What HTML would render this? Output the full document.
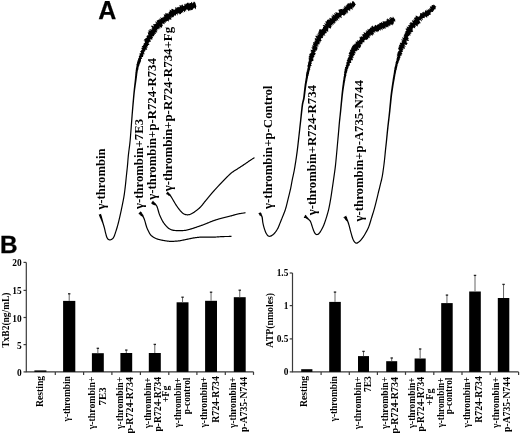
<!DOCTYPE html>
<html><head><meta charset="utf-8"><style>
html,body{margin:0;padding:0;background:#fff;width:520px;height:433px;overflow:hidden}
svg{display:block;filter:grayscale(1)}
text{font-family:"Liberation Serif",serif;font-weight:bold;fill:#000}
.big{font-family:"Liberation Sans",sans-serif;font-weight:bold}
</style></head><body>
<svg width="520" height="433" viewBox="0 0 520 433">
<rect width="520" height="433" fill="#fff"/>
<text class="big" x="98.3" y="18.7" font-size="25" stroke="#000" stroke-width="0.25">A</text>
<text class="big" x="-0.1" y="253.4" font-size="24.3" stroke="#000" stroke-width="0.3">B</text>
<g fill="#000"><path d="M98.54,214.78 L98.91,215.03 L99.06,215.49 L99.19,216.05 L99.54,216.60 L99.68,217.24 L100.08,217.78 L100.24,218.33 L100.43,218.85 L100.67,219.34 L100.89,219.85 L101.10,220.34 L101.30,220.83 L101.50,221.30 L101.69,221.74 L101.91,222.31 L102.11,222.83 L102.31,223.32 L102.50,223.83 L102.70,224.39 L102.84,224.82 L102.98,225.25 L103.12,225.68 L103.26,226.14 L103.41,226.63 L103.56,227.16 L103.72,227.75 L103.82,228.16 L103.93,228.61 L104.05,229.09 L104.16,229.59 L104.28,230.10 L104.40,230.62 L104.52,231.15 L104.65,231.67 L104.77,232.18 L104.90,232.68 L105.02,233.15 L105.17,233.71 L105.31,234.27 L105.46,234.83 L105.60,235.39 L105.75,235.93 L105.91,236.46 L106.08,236.96 L106.26,237.43 L106.47,237.88 L106.85,238.55 L107.27,239.15 L107.73,239.65 L108.23,240.05 L108.78,240.36 L109.51,240.54 L110.27,240.53 L111.00,240.34 L111.67,240.04 L112.11,239.78 L112.54,239.48 L112.98,239.12 L113.41,238.68 L113.82,238.14 L114.22,237.50 L114.44,237.09 L114.64,236.65 L114.84,236.18 L115.04,235.68 L115.23,235.16 L115.42,234.62 L115.61,234.07 L115.80,233.51 L115.99,232.94 L116.18,232.36 L116.37,231.79 L116.52,231.33 L116.67,230.87 L116.82,230.40 L116.98,229.92 L117.13,229.43 L117.28,228.94 L117.43,228.44 L117.58,227.94 L117.73,227.42 L117.88,226.90 L118.03,226.37 L118.18,225.84 L118.33,225.30 L118.48,224.76 L118.60,224.30 L118.72,223.84 L118.84,223.38 L118.96,222.91 L119.07,222.44 L119.19,221.97 L119.31,221.49 L119.43,221.00 L119.54,220.51 L119.66,220.02 L119.78,219.52 L119.89,219.02 L120.01,218.51 L120.13,218.00 L120.25,217.48 L120.36,216.96 L120.49,216.43 L120.59,215.96 L120.70,215.47 L120.81,214.99 L120.92,214.49 L121.03,214.00 L121.15,213.49 L121.26,212.99 L121.37,212.48 L121.48,211.97 L121.59,211.45 L121.70,210.93 L121.82,210.41 L121.93,209.89 L122.04,209.36 L122.15,208.84 L122.26,208.31 L122.37,207.78 L122.48,207.25 L122.59,206.72 L122.69,206.24 L122.79,205.75 L122.88,205.27 L122.99,204.78 L123.09,204.28 L123.19,203.78 L123.29,203.29 L123.39,202.78 L123.49,202.28 L123.59,201.78 L123.69,201.28 L123.79,200.77 L123.88,200.27 L123.98,199.77 L124.07,199.26 L124.16,198.76 L124.25,198.27 L124.34,197.77 L124.43,197.28 L124.51,196.78 L124.59,196.30 L124.68,195.76 L124.76,195.23 L124.84,194.70 L124.92,194.18 L124.99,193.66 L125.06,193.14 L125.13,192.62 L125.20,192.10 L125.27,191.59 L125.33,191.07 L125.40,190.56 L125.46,190.04 L125.52,189.53 L125.59,189.01 L125.65,188.49 L125.71,187.96 L125.77,187.43 L125.83,186.90 L125.90,186.37 L125.95,185.88 L126.01,185.39 L126.06,184.90 L126.12,184.40 L126.17,183.90 L126.23,183.40 L126.28,182.90 L126.33,182.40 L126.38,181.90 L126.43,181.39 L126.49,180.89 L126.54,180.38 L126.59,179.88 L126.64,179.37 L126.69,178.87 L126.74,178.37 L126.79,177.86 L126.84,177.36 L126.89,176.86 L126.94,176.36 L127.00,175.86 L127.05,175.34 L127.11,174.82 L127.16,174.30 L127.22,173.78 L127.28,173.26 L127.33,172.74 L127.39,172.22 L127.45,171.70 L127.50,171.18 L127.56,170.66 L127.62,170.14 L127.67,169.62 L127.73,169.10 L127.78,168.58 L127.84,168.06 L127.89,167.54 L127.94,167.02 L128.00,166.50 L128.05,165.98 L128.10,165.46 L128.15,164.94 L128.19,164.42 L128.24,163.91 L128.28,163.40 L128.32,162.89 L128.36,162.38 L128.40,161.87 L128.44,161.37 L128.48,160.86 L128.52,160.35 L128.56,159.84 L128.60,159.33 L128.65,158.82 L128.69,158.30 L128.74,157.77 L128.78,157.24 L128.83,156.71 L128.88,156.17 L128.94,155.62 L129.00,155.06 L129.05,154.59 L129.10,154.11 L129.16,153.63 L129.22,153.13 L129.28,152.63 L129.34,152.13 L129.41,151.62 L129.47,151.11 L129.54,150.59 L129.61,150.07 L129.68,149.55 L129.74,149.03 L129.81,148.51 L129.88,147.99 L129.95,147.47 L130.02,146.95 L130.08,146.43 L130.15,145.92 L130.21,145.41 L130.27,144.91 L130.33,144.41 L130.39,143.92 L130.44,143.44 L130.50,142.96 L130.56,142.40 L130.61,141.85 L130.67,141.31 L130.72,140.77 L130.77,140.24 L130.81,139.71 L130.86,139.19 L130.91,138.67 L130.95,138.16 L130.99,137.65 L131.03,137.14 L131.07,136.63 L131.11,136.13 L131.15,135.62 L131.19,135.11 L131.23,134.61 L131.27,134.10 L131.31,133.58 L131.36,133.07 L131.40,132.55 L131.44,132.05 L131.48,131.55 L131.52,131.05 L131.56,130.55 L131.60,130.05 L131.64,129.55 L131.68,129.05 L131.72,128.54 L131.76,128.04 L131.80,127.54 L131.84,127.04 L131.87,126.54 L131.91,126.04 L131.95,125.53 L131.99,125.03 L132.03,124.53 L132.07,124.04 L132.11,123.54 L132.15,123.04 L132.18,122.54 L132.22,122.05 L132.26,121.53 L132.31,121.01 L132.35,120.49 L132.39,119.98 L132.43,119.46 L132.47,118.95 L132.51,118.43 L132.55,117.92 L132.59,117.41 L132.63,116.89 L132.67,116.38 L132.71,115.87 L132.75,115.35 L132.79,114.84 L132.83,114.33 L132.88,113.81 L132.92,113.30 L132.96,112.79 L133.00,112.27 L133.05,111.75 L133.09,111.24 L133.14,110.72 L133.18,110.20 L133.23,109.68 L133.28,109.17 L133.32,108.65 L133.37,108.13 L133.42,107.61 L133.46,107.09 L133.51,106.57 L133.56,106.05 L133.61,105.53 L133.65,105.01 L133.70,104.49 L133.75,103.97 L133.80,103.45 L133.85,102.93 L133.90,102.41 L133.95,101.89 L134.00,101.36 L134.04,100.87 L134.09,100.37 L134.14,99.87 L134.19,99.37 L134.23,98.87 L134.28,98.37 L134.33,97.87 L134.38,97.37 L134.42,96.87 L134.47,96.37 L134.52,95.87 L134.57,95.37 L134.62,94.87 L134.67,94.37 L134.72,93.87 L134.77,93.37 L134.83,92.87 L134.88,92.37 L134.93,91.87 L134.99,91.38 L135.05,90.88 L135.11,90.36 L135.18,89.84 L135.25,89.31 L135.32,88.78 L135.39,88.24 L135.47,87.71 L135.54,87.17 L135.62,86.64 L135.69,86.11 L135.77,85.57 L135.84,85.05 L135.92,84.52 L136.00,84.00 L136.07,83.48 L136.14,82.97 L136.22,82.46 L136.29,81.96 L136.36,81.47 L136.43,80.98 L136.49,80.51 L136.57,79.92 L136.66,79.35 L136.72,78.78 L136.79,78.22 L136.90,77.68 L136.94,77.13 L136.98,76.59 L137.08,76.07 L137.17,75.56 L137.26,75.05 L137.20,74.53 L137.41,74.06 L137.38,73.56 L137.43,73.08 L137.50,72.61 L137.71,72.16 L137.63,71.57 L137.84,71.04 L137.81,70.49 L138.10,70.00 L138.24,69.50 L138.41,69.01 L138.37,68.50 L138.48,68.02 L138.58,67.55 L138.51,67.05 L138.83,66.63 L138.88,66.15 L139.15,65.73 L139.40,65.27 L139.55,64.79 L139.48,64.26 L139.75,63.83 L139.99,63.39 L140.23,62.96 L140.45,62.52 L140.25,61.94 L140.86,61.63 L140.89,61.12 L140.92,60.61 L141.13,60.14 L140.97,59.55 L141.04,59.04 L141.96,58.84 L142.21,58.40 L141.67,57.64 L141.75,57.11 L143.06,57.09 L143.01,56.51 L143.18,56.02 L143.34,55.53 L143.27,54.93 L142.98,54.25 L144.65,54.41 L143.53,53.38 L144.86,53.40 L143.79,52.37 L144.14,51.96 L144.57,51.59 L145.03,51.22 L145.54,50.88 L145.02,50.08 L145.43,49.69 L146.69,49.66 L147.30,49.33 L147.07,48.65 L146.02,47.64 L147.94,47.84 L146.86,46.84 L147.51,46.54 L147.81,46.10 L148.26,45.73 L147.87,45.02 L149.40,45.10 L148.94,44.37 L149.64,44.13 L148.10,42.89 L148.83,42.65 L149.36,42.31 L149.62,41.85 L150.56,41.71 L151.01,41.35 L150.50,40.52 L149.73,39.53 L150.81,39.50 L151.82,39.44 L152.67,39.32 L151.79,38.27 L152.76,38.24 L152.92,37.77 L152.67,37.04 L152.26,36.19 L153.33,36.25 L154.25,36.23 L153.92,35.42 L154.15,34.96 L155.40,35.18 L154.10,33.69 L155.43,33.98 L155.94,33.72 L155.48,32.82 L155.61,32.21 L156.86,32.38 L157.41,32.12 L156.05,30.54 L157.61,31.03 L157.06,30.03 L156.96,29.34 L157.92,29.46 L157.97,28.88 L159.41,29.43 L158.31,27.88 L159.72,28.48 L160.50,28.55 L159.10,26.55 L160.80,27.48 L161.68,27.65 L161.96,27.23 L162.01,26.56 L162.19,26.03 L163.03,26.19 L162.39,24.77 L162.44,24.10 L162.44,23.36 L163.40,23.73 L164.46,24.25 L164.66,23.74 L164.24,22.43 L164.85,22.40 L165.70,22.66 L165.97,22.19 L165.64,20.92 L166.86,21.66 L167.06,21.08 L167.48,20.80 L168.73,21.59 L169.01,21.13 L168.59,19.71 L169.59,20.21 L169.34,19.02 L170.72,20.07 L170.68,19.17 L171.65,19.68 L170.59,17.31 L172.14,18.57 L171.41,16.55 L172.66,17.42 L173.05,17.05 L173.78,17.21 L173.74,16.20 L174.01,15.67 L174.69,15.80 L174.60,14.66 L175.93,15.95 L176.01,15.10 L176.00,14.04 L176.57,14.02 L177.96,15.64 L177.40,13.41 L178.15,13.77 L178.34,12.97 L179.79,14.86 L179.58,13.18 L180.59,14.17 L181.09,14.07 L181.08,12.80 L181.73,13.04 L182.13,12.69 L182.32,11.80 L183.37,13.06 L182.96,10.63 L183.67,11.02 L184.74,12.36 L185.10,11.85 L184.93,9.95 L186.23,11.85 L186.05,9.97 L186.30,9.23 L187.07,9.88 L187.34,9.23 L188.52,11.24 L188.85,10.92 L188.97,9.91 L189.50,10.43 L190.02,10.85 L190.39,10.55 L190.70,9.45 L191.34,10.19 L191.86,10.03 L192.33,9.40 L192.97,9.92 L193.17,7.64 L193.97,8.95 L194.47,7.47 L195.77,9.57 L195.96,7.86 L196.13,6.70 L196.47,6.69 L195.40,2.88 L194.76,1.93 L194.16,1.50 L194.01,2.92 L193.05,1.45 L192.78,3.14 L192.47,3.41 L191.84,2.18 L191.28,1.71 L190.91,3.08 L190.29,2.92 L189.62,2.70 L189.17,3.90 L188.22,2.56 L187.53,2.70 L186.99,3.07 L186.57,3.70 L186.02,3.86 L185.35,3.64 L185.31,5.12 L184.13,3.51 L184.43,5.79 L183.95,5.97 L183.42,6.03 L182.21,4.32 L181.95,5.09 L181.25,4.76 L181.39,6.61 L180.20,5.06 L179.53,4.90 L179.80,7.03 L179.31,7.29 L178.47,6.74 L178.15,7.42 L177.45,7.20 L176.73,6.96 L176.85,8.55 L175.35,6.65 L175.37,8.01 L175.29,9.14 L174.77,9.34 L174.49,10.03 L173.52,9.42 L172.63,9.02 L171.79,8.76 L171.32,9.16 L171.55,10.68 L170.43,10.00 L169.61,9.82 L169.99,11.46 L169.26,11.41 L169.00,12.04 L168.61,12.49 L168.68,13.58 L168.18,13.85 L166.86,12.88 L166.85,13.79 L165.52,12.86 L165.39,13.60 L165.46,14.62 L164.94,14.82 L163.67,14.03 L164.09,15.48 L164.30,16.63 L163.49,16.45 L163.51,17.34 L162.92,17.42 L162.40,17.61 L161.90,17.81 L161.31,17.91 L159.87,16.96 L161.10,19.35 L160.16,19.04 L158.92,18.43 L159.66,20.15 L158.43,19.60 L158.10,20.09 L157.50,20.26 L156.95,20.51 L156.56,20.93 L157.44,22.65 L155.27,21.28 L155.62,22.45 L156.27,23.87 L155.41,23.83 L154.88,24.12 L154.15,24.23 L153.05,24.05 L153.53,25.27 L153.98,26.38 L151.92,25.54 L151.29,25.82 L151.20,26.47 L152.61,28.15 L151.36,27.96 L152.27,29.26 L151.47,29.40 L150.08,29.15 L149.10,29.08 L150.92,30.93 L148.52,29.94 L148.67,30.68 L148.39,31.15 L149.27,32.38 L147.63,31.99 L148.11,32.96 L147.90,33.50 L148.26,34.39 L148.50,35.18 L147.33,35.16 L147.11,35.68 L146.45,35.97 L146.67,36.73 L146.78,37.42 L146.66,37.99 L145.28,37.93 L145.71,38.77 L144.90,39.00 L143.85,39.12 L145.30,40.42 L143.40,40.14 L144.90,41.44 L144.57,41.89 L145.20,42.76 L144.40,43.01 L143.96,43.41 L143.42,43.77 L143.49,44.37 L143.86,45.08 L142.74,45.20 L143.15,45.91 L142.28,46.11 L141.53,46.34 L142.99,47.50 L141.49,47.41 L142.24,48.29 L140.88,48.25 L142.44,49.50 L141.99,49.87 L140.97,49.98 L141.45,50.76 L140.97,51.12 L139.94,51.24 L140.94,52.25 L140.78,52.76 L140.84,53.36 L139.22,53.24 L139.92,54.11 L139.45,54.48 L140.07,55.30 L139.23,55.53 L139.02,56.01 L138.71,56.46 L139.23,57.24 L138.81,57.64 L138.76,58.19 L138.11,58.51 L137.87,58.99 L138.05,59.60 L138.24,60.20 L137.40,60.45 L137.47,61.01 L137.40,61.52 L137.26,62.01 L136.94,62.45 L137.21,63.07 L137.00,63.56 L136.56,63.98 L136.50,64.52 L136.38,65.06 L136.70,65.65 L136.31,66.07 L136.45,66.62 L136.31,67.10 L136.18,67.59 L136.08,68.09 L135.94,68.58 L135.89,69.11 L135.82,69.63 L135.75,70.17 L135.58,70.70 L135.68,71.28 L135.57,71.85 L135.40,72.31 L135.43,72.81 L135.32,73.30 L135.38,73.81 L135.29,74.31 L135.21,74.81 L135.20,75.33 L135.20,75.86 L135.06,76.38 L135.01,76.92 L134.95,77.46 L134.93,78.01 L134.90,78.57 L134.82,79.14 L134.76,79.71 L134.71,80.29 L134.66,80.76 L134.60,81.25 L134.55,81.74 L134.49,82.24 L134.43,82.75 L134.37,83.26 L134.31,83.78 L134.25,84.30 L134.19,84.83 L134.13,85.36 L134.07,85.90 L134.01,86.43 L133.95,86.97 L133.89,87.51 L133.83,88.05 L133.77,88.59 L133.71,89.12 L133.66,89.66 L133.61,90.19 L133.55,90.72 L133.50,91.22 L133.45,91.72 L133.40,92.22 L133.35,92.72 L133.30,93.22 L133.26,93.72 L133.21,94.23 L133.17,94.73 L133.12,95.23 L133.08,95.73 L133.03,96.23 L132.99,96.74 L132.94,97.24 L132.90,97.74 L132.86,98.24 L132.82,98.74 L132.77,99.24 L132.73,99.74 L132.69,100.24 L132.65,100.74 L132.60,101.24 L132.56,101.76 L132.51,102.28 L132.47,102.80 L132.42,103.33 L132.38,103.85 L132.34,104.37 L132.29,104.89 L132.25,105.41 L132.21,105.93 L132.17,106.45 L132.12,106.97 L132.08,107.49 L132.04,108.01 L132.00,108.53 L131.96,109.05 L131.91,109.57 L131.87,110.09 L131.83,110.61 L131.79,111.13 L131.75,111.65 L131.71,112.16 L131.67,112.68 L131.63,113.20 L131.59,113.71 L131.55,114.23 L131.51,114.74 L131.47,115.25 L131.43,115.77 L131.40,116.28 L131.36,116.79 L131.32,117.31 L131.28,117.82 L131.24,118.34 L131.21,118.85 L131.17,119.37 L131.13,119.88 L131.09,120.40 L131.05,120.91 L131.02,121.43 L130.98,121.95 L130.94,122.45 L130.90,122.95 L130.87,123.44 L130.83,123.94 L130.79,124.44 L130.76,124.94 L130.72,125.44 L130.69,125.94 L130.65,126.45 L130.61,126.95 L130.58,127.45 L130.54,127.95 L130.50,128.45 L130.47,128.95 L130.43,129.46 L130.39,129.96 L130.36,130.46 L130.32,130.96 L130.28,131.46 L130.24,131.95 L130.20,132.45 L130.16,132.97 L130.12,133.49 L130.08,134.00 L130.04,134.51 L130.00,135.02 L129.96,135.53 L129.92,136.03 L129.88,136.54 L129.84,137.04 L129.80,137.55 L129.75,138.06 L129.71,138.57 L129.67,139.09 L129.62,139.60 L129.57,140.13 L129.52,140.66 L129.47,141.19 L129.42,141.73 L129.36,142.28 L129.30,142.84 L129.25,143.31 L129.20,143.79 L129.14,144.27 L129.08,144.77 L129.02,145.27 L128.96,145.77 L128.89,146.28 L128.83,146.79 L128.76,147.31 L128.69,147.83 L128.62,148.35 L128.56,148.87 L128.49,149.39 L128.42,149.91 L128.35,150.43 L128.28,150.95 L128.22,151.47 L128.15,151.98 L128.09,152.49 L128.03,152.99 L127.97,153.49 L127.91,153.98 L127.86,154.46 L127.80,154.94 L127.74,155.50 L127.69,156.05 L127.64,156.60 L127.59,157.13 L127.54,157.67 L127.49,158.19 L127.45,158.72 L127.41,159.23 L127.37,159.75 L127.33,160.26 L127.29,160.77 L127.25,161.27 L127.21,161.78 L127.17,162.29 L127.13,162.79 L127.09,163.30 L127.04,163.80 L127.00,164.31 L126.95,164.83 L126.90,165.34 L126.85,165.86 L126.80,166.38 L126.75,166.90 L126.70,167.42 L126.64,167.94 L126.59,168.45 L126.53,168.97 L126.48,169.49 L126.42,170.01 L126.37,170.53 L126.31,171.05 L126.25,171.57 L126.20,172.09 L126.14,172.61 L126.08,173.13 L126.03,173.65 L125.97,174.17 L125.91,174.69 L125.86,175.21 L125.80,175.74 L125.75,176.24 L125.70,176.74 L125.65,177.24 L125.60,177.74 L125.55,178.25 L125.49,178.75 L125.44,179.25 L125.39,179.76 L125.34,180.26 L125.29,180.77 L125.24,181.27 L125.19,181.78 L125.14,182.28 L125.08,182.78 L125.03,183.28 L124.98,183.78 L124.93,184.27 L124.87,184.76 L124.82,185.26 L124.76,185.74 L124.70,186.23 L124.64,186.76 L124.58,187.30 L124.52,187.82 L124.46,188.34 L124.39,188.86 L124.33,189.38 L124.27,189.90 L124.21,190.41 L124.14,190.92 L124.08,191.44 L124.01,191.95 L123.94,192.46 L123.87,192.98 L123.80,193.49 L123.73,194.01 L123.65,194.53 L123.57,195.05 L123.49,195.57 L123.41,196.10 L123.33,196.59 L123.25,197.07 L123.16,197.56 L123.07,198.05 L122.98,198.55 L122.89,199.05 L122.80,199.54 L122.70,200.04 L122.61,200.54 L122.51,201.05 L122.41,201.55 L122.31,202.05 L122.21,202.55 L122.11,203.05 L122.01,203.55 L121.91,204.04 L121.81,204.54 L121.71,205.03 L121.61,205.51 L121.51,206.00 L121.41,206.48 L121.30,207.01 L121.20,207.54 L121.09,208.06 L120.98,208.59 L120.86,209.11 L120.75,209.64 L120.64,210.16 L120.53,210.68 L120.42,211.20 L120.31,211.71 L120.20,212.22 L120.08,212.73 L119.97,213.23 L119.86,213.73 L119.75,214.23 L119.64,214.72 L119.53,215.21 L119.42,215.69 L119.31,216.17 L119.19,216.69 L119.08,217.21 L118.96,217.73 L118.84,218.24 L118.72,218.75 L118.61,219.25 L118.49,219.74 L118.37,220.24 L118.26,220.72 L118.14,221.20 L118.03,221.68 L117.91,222.15 L117.79,222.62 L117.68,223.08 L117.56,223.54 L117.44,224.00 L117.32,224.44 L117.17,224.99 L117.03,225.52 L116.88,226.05 L116.73,226.57 L116.58,227.09 L116.43,227.59 L116.28,228.10 L116.13,228.59 L115.98,229.08 L115.83,229.56 L115.68,230.03 L115.53,230.50 L115.38,230.96 L115.23,231.41 L115.04,231.99 L114.85,232.56 L114.66,233.13 L114.48,233.69 L114.29,234.23 L114.10,234.75 L113.92,235.25 L113.73,235.72 L113.55,236.16 L113.36,236.55 L113.18,236.90 L112.84,237.46 L112.50,237.89 L112.16,238.24 L111.82,238.53 L111.47,238.76 L111.13,238.96 L110.60,239.21 L110.10,239.34 L109.64,239.35 L109.22,239.24 L108.90,239.06 L108.56,238.78 L108.21,238.40 L107.86,237.91 L107.53,237.32 L107.37,236.97 L107.21,236.55 L107.06,236.09 L106.91,235.60 L106.76,235.07 L106.62,234.53 L106.47,233.97 L106.33,233.41 L106.18,232.85 L106.06,232.38 L105.94,231.90 L105.81,231.39 L105.69,230.87 L105.57,230.35 L105.45,229.83 L105.33,229.31 L105.21,228.81 L105.10,228.33 L104.99,227.87 L104.88,227.45 L104.72,226.84 L104.57,226.30 L104.43,225.79 L104.29,225.32 L104.16,224.88 L104.03,224.45 L103.90,224.01 L103.74,223.43 L103.59,222.89 L103.44,222.38 L103.28,221.85 L103.11,221.26 L102.99,220.79 L102.86,220.30 L102.72,219.79 L102.58,219.27 L102.45,218.73 L102.34,218.19 L102.11,217.68 L102.04,217.09 L101.81,216.49 L101.65,215.86 L101.38,215.28 L101.25,214.72 L101.05,214.27 L101.22,213.84Z"/><path d="M138.75,213.34 L138.57,214.02 L139.16,214.13 L139.52,214.58 L140.28,214.68 L140.36,215.38 L140.78,215.65 L141.30,215.89 L141.69,216.19 L142.01,216.52 L142.36,216.87 L142.72,217.30 L142.93,217.69 L143.13,218.11 L143.33,218.56 L143.54,219.03 L143.74,219.52 L143.93,220.04 L144.13,220.59 L144.28,221.04 L144.42,221.52 L144.56,222.03 L144.71,222.56 L144.85,223.10 L144.99,223.64 L145.13,224.17 L145.28,224.68 L145.43,225.17 L145.59,225.69 L145.74,226.20 L145.90,226.69 L146.06,227.17 L146.22,227.64 L146.38,228.10 L146.56,228.57 L146.75,229.03 L146.98,229.56 L147.22,230.08 L147.47,230.59 L147.73,231.09 L147.98,231.57 L148.23,232.04 L148.47,232.48 L148.72,232.97 L148.96,233.44 L149.20,233.90 L149.46,234.37 L149.78,234.84 L150.15,235.30 L150.52,235.68 L150.92,236.05 L151.34,236.41 L151.79,236.76 L152.24,237.09 L152.71,237.41 L153.18,237.71 L153.65,238.00 L154.13,238.27 L154.63,238.53 L155.14,238.78 L155.66,239.02 L156.22,239.25 L156.80,239.46 L157.28,239.63 L157.78,239.78 L158.29,239.93 L158.82,240.07 L159.35,240.20 L159.89,240.33 L160.42,240.46 L160.95,240.57 L161.47,240.69 L161.99,240.80 L162.50,240.90 L163.02,241.00 L163.53,241.09 L164.04,241.18 L164.56,241.26 L165.07,241.34 L165.59,241.42 L166.12,241.49 L166.65,241.57 L167.19,241.64 L167.74,241.71 L168.29,241.78 L168.85,241.84 L169.40,241.89 L169.94,241.94 L170.47,241.98 L170.98,242.00 L171.53,242.01 L172.06,242.00 L172.57,241.98 L173.06,241.95 L173.55,241.92 L174.03,241.88 L174.53,241.84 L175.04,241.80 L175.50,241.77 L175.94,241.74 L176.39,241.72 L176.84,241.70 L177.31,241.66 L177.82,241.62 L178.36,241.56 L178.95,241.49 L179.59,241.39 L180.01,241.32 L180.46,241.25 L180.92,241.16 L181.40,241.07 L181.90,240.97 L182.40,240.87 L182.92,240.76 L183.45,240.65 L183.98,240.54 L184.51,240.43 L185.05,240.32 L185.57,240.20 L186.10,240.10 L186.61,239.99 L187.12,239.89 L187.62,239.79 L188.12,239.68 L188.63,239.57 L189.13,239.47 L189.63,239.36 L190.13,239.25 L190.63,239.14 L191.12,239.03 L191.62,238.93 L192.12,238.83 L192.61,238.73 L193.11,238.64 L193.60,238.55 L194.09,238.47 L194.59,238.39 L195.08,238.32 L195.55,238.26 L196.01,238.19 L196.46,238.13 L196.91,238.08 L197.36,238.03 L197.81,237.98 L198.27,237.93 L198.74,237.89 L199.23,237.85 L199.73,237.81 L200.26,237.78 L200.81,237.75 L201.40,237.72 L202.02,237.70 L202.45,237.69 L202.89,237.68 L203.36,237.67 L203.84,237.66 L204.34,237.66 L204.85,237.66 L205.37,237.66 L205.90,237.67 L206.44,237.67 L206.99,237.68 L207.54,237.68 L208.09,237.69 L208.65,237.70 L209.20,237.70 L209.75,237.71 L210.29,237.71 L210.83,237.72 L211.36,237.72 L211.88,237.72 L212.39,237.72 L212.88,237.72 L213.35,237.71 L213.81,237.70 L214.41,237.68 L214.99,237.66 L215.55,237.64 L216.09,237.61 L216.61,237.58 L217.13,237.55 L217.63,237.51 L218.12,237.48 L218.61,237.44 L219.09,237.41 L219.58,237.37 L220.06,237.34 L220.54,237.31 L221.02,237.28 L221.51,237.25 L222.01,237.22 L222.52,237.20 L223.03,237.18 L223.55,237.16 L224.10,237.14 L224.67,237.12 L225.24,237.10 L225.82,237.09 L226.41,237.07 L226.98,237.06 L227.55,237.04 L228.11,237.03 L228.65,237.02 L229.16,237.01 L229.65,237.00 L230.11,236.99 L230.53,236.98 L230.90,236.97 L231.23,236.96 L231.51,236.95 L231.49,235.85 L231.21,235.85 L230.88,235.86 L230.51,235.86 L230.09,235.86 L229.63,235.87 L229.15,235.87 L228.63,235.88 L228.09,235.89 L227.53,235.89 L226.96,235.90 L226.38,235.91 L225.80,235.92 L225.21,235.93 L224.64,235.94 L224.07,235.96 L223.52,235.97 L222.98,235.98 L222.48,236.00 L221.96,236.02 L221.45,236.05 L220.95,236.08 L220.46,236.11 L219.97,236.14 L219.49,236.18 L219.01,236.21 L218.52,236.25 L218.04,236.28 L217.55,236.32 L217.05,236.35 L216.54,236.38 L216.02,236.41 L215.49,236.44 L214.94,236.46 L214.37,236.48 L213.79,236.50 L213.33,236.51 L212.87,236.52 L212.38,236.52 L211.88,236.52 L211.36,236.52 L210.84,236.52 L210.30,236.51 L209.76,236.51 L209.21,236.50 L208.66,236.50 L208.11,236.49 L207.56,236.48 L207.00,236.48 L206.46,236.47 L205.91,236.47 L205.38,236.46 L204.85,236.46 L204.34,236.46 L203.83,236.46 L203.34,236.47 L202.87,236.48 L202.41,236.49 L201.98,236.50 L201.35,236.53 L200.75,236.55 L200.19,236.58 L199.65,236.62 L199.14,236.65 L198.64,236.69 L198.16,236.74 L197.69,236.78 L197.23,236.83 L196.77,236.89 L196.31,236.94 L195.85,237.00 L195.38,237.07 L194.91,237.13 L194.41,237.21 L193.91,237.28 L193.40,237.37 L192.89,237.46 L192.39,237.55 L191.88,237.65 L191.38,237.75 L190.88,237.86 L190.37,237.97 L189.87,238.08 L189.37,238.18 L188.87,238.29 L188.37,238.40 L187.88,238.51 L187.38,238.61 L186.88,238.71 L186.37,238.81 L185.86,238.92 L185.33,239.03 L184.80,239.14 L184.27,239.25 L183.73,239.37 L183.20,239.48 L182.68,239.59 L182.16,239.69 L181.66,239.79 L181.17,239.89 L180.70,239.98 L180.24,240.06 L179.81,240.14 L179.41,240.21 L178.78,240.30 L178.22,240.37 L177.70,240.42 L177.22,240.47 L176.76,240.50 L176.32,240.52 L175.88,240.55 L175.43,240.57 L174.96,240.60 L174.43,240.64 L173.93,240.68 L173.45,240.72 L172.98,240.76 L172.51,240.79 L172.03,240.80 L171.54,240.81 L171.02,240.80 L170.54,240.78 L170.03,240.74 L169.51,240.70 L168.97,240.65 L168.43,240.59 L167.89,240.52 L167.35,240.45 L166.81,240.38 L166.28,240.31 L165.77,240.23 L165.25,240.16 L164.75,240.08 L164.24,240.00 L163.74,239.91 L163.24,239.82 L162.73,239.72 L162.23,239.62 L161.73,239.51 L161.21,239.40 L160.69,239.28 L160.16,239.16 L159.64,239.04 L159.12,238.91 L158.61,238.77 L158.12,238.63 L157.65,238.49 L157.20,238.34 L156.66,238.13 L156.14,237.92 L155.65,237.69 L155.17,237.46 L154.71,237.22 L154.26,236.96 L153.82,236.69 L153.37,236.41 L152.93,236.11 L152.51,235.80 L152.10,235.48 L151.71,235.15 L151.36,234.83 L151.05,234.50 L150.74,234.12 L150.48,233.74 L150.25,233.33 L150.03,232.90 L149.79,232.42 L149.53,231.92 L149.29,231.47 L149.04,231.01 L148.79,230.54 L148.54,230.05 L148.30,229.56 L148.07,229.07 L147.85,228.57 L147.68,228.13 L147.51,227.69 L147.35,227.24 L147.19,226.78 L147.04,226.32 L146.89,225.84 L146.73,225.34 L146.57,224.83 L146.43,224.35 L146.29,223.85 L146.15,223.33 L146.01,222.79 L145.86,222.25 L145.72,221.71 L145.57,221.19 L145.42,220.69 L145.27,220.21 L145.08,219.64 L144.89,219.09 L144.69,218.57 L144.49,218.06 L144.29,217.59 L144.08,217.13 L143.88,216.70 L143.67,216.10 L143.47,215.56 L143.29,215.02 L143.05,214.51 L142.54,214.18 L142.36,213.57 L141.77,213.26 L141.77,212.37 L141.20,212.10 L140.76,211.85 L141.02,211.10Z"/><path d="M150.67,203.64 L151.60,203.07 L151.57,203.94 L152.20,204.14 L152.78,204.45 L153.32,204.75 L153.85,204.97 L154.52,205.25 L154.98,205.21 L155.36,205.28 L155.62,205.55 L155.90,205.89 L156.17,206.31 L156.46,206.85 L156.60,207.21 L156.75,207.63 L156.90,208.09 L157.05,208.58 L157.21,209.10 L157.36,209.63 L157.53,210.17 L157.67,210.65 L157.80,211.14 L157.94,211.65 L158.08,212.17 L158.23,212.70 L158.39,213.24 L158.55,213.77 L158.73,214.30 L158.92,214.81 L159.12,215.32 L159.32,215.83 L159.53,216.33 L159.75,216.83 L159.98,217.34 L160.21,217.85 L160.46,218.36 L160.69,218.83 L160.93,219.30 L161.17,219.79 L161.43,220.27 L161.69,220.76 L161.96,221.24 L162.23,221.71 L162.51,222.18 L162.80,222.63 L163.12,223.11 L163.44,223.58 L163.77,224.04 L164.11,224.49 L164.46,224.93 L164.81,225.36 L165.18,225.79 L165.56,226.20 L165.94,226.62 L166.33,227.03 L166.73,227.45 L167.14,227.86 L167.57,228.26 L168.02,228.64 L168.50,228.99 L168.99,229.31 L169.49,229.60 L169.99,229.85 L170.50,230.08 L171.03,230.28 L171.58,230.47 L172.15,230.63 L172.76,230.77 L173.39,230.89 L173.85,230.96 L174.33,231.02 L174.82,231.07 L175.33,231.11 L175.84,231.14 L176.37,231.16 L176.89,231.18 L177.42,231.19 L177.95,231.20 L178.48,231.20 L178.99,231.20 L179.50,231.20 L180.00,231.20 L180.50,231.20 L181.01,231.20 L181.51,231.19 L182.02,231.18 L182.52,231.16 L183.03,231.14 L183.54,231.11 L184.05,231.07 L184.56,231.02 L185.08,230.96 L185.59,230.89 L186.10,230.81 L186.62,230.71 L187.13,230.61 L187.64,230.49 L188.15,230.37 L188.65,230.24 L189.16,230.10 L189.66,229.96 L190.17,229.81 L190.67,229.67 L191.17,229.52 L191.67,229.38 L192.17,229.23 L192.68,229.07 L193.18,228.91 L193.69,228.74 L194.19,228.58 L194.69,228.41 L195.20,228.23 L195.70,228.06 L196.20,227.89 L196.70,227.71 L197.20,227.54 L197.69,227.37 L198.18,227.20 L198.64,227.05 L199.09,226.90 L199.53,226.75 L199.97,226.60 L200.43,226.45 L200.89,226.29 L201.38,226.12 L201.90,225.93 L202.46,225.73 L203.06,225.51 L203.71,225.26 L204.10,225.11 L204.50,224.95 L204.92,224.79 L205.36,224.61 L205.81,224.43 L206.27,224.24 L206.74,224.05 L207.22,223.85 L207.71,223.65 L208.21,223.44 L208.71,223.24 L209.21,223.03 L209.71,222.82 L210.22,222.62 L210.72,222.42 L211.21,222.22 L211.70,222.03 L212.18,221.84 L212.66,221.66 L213.12,221.49 L213.57,221.32 L214.00,221.17 L214.52,220.99 L215.03,220.81 L215.53,220.65 L216.02,220.49 L216.51,220.33 L216.99,220.18 L217.47,220.04 L217.94,219.90 L218.41,219.76 L218.88,219.62 L219.35,219.49 L219.81,219.36 L220.28,219.23 L220.75,219.10 L221.22,218.97 L221.70,218.84 L222.17,218.71 L222.66,218.58 L223.14,218.45 L223.64,218.32 L224.14,218.19 L224.64,218.06 L225.14,217.93 L225.65,217.80 L226.16,217.68 L226.67,217.56 L227.17,217.43 L227.68,217.31 L228.17,217.19 L228.67,217.07 L229.15,216.95 L229.63,216.84 L230.10,216.72 L230.56,216.61 L231.01,216.49 L231.45,216.38 L232.03,216.23 L232.59,216.07 L233.12,215.92 L233.63,215.78 L234.12,215.63 L234.60,215.49 L235.07,215.35 L235.55,215.21 L236.02,215.08 L236.50,214.95 L236.99,214.83 L237.50,214.71 L238.03,214.59 L238.52,214.48 L239.04,214.37 L239.60,214.27 L240.18,214.16 L240.77,214.06 L241.36,213.95 L241.96,213.85 L242.54,213.76 L243.11,213.67 L243.65,213.58 L244.16,213.50 L244.62,213.42 L245.04,213.35 L245.40,213.29 L245.69,213.24 L245.51,212.16 L245.22,212.20 L244.86,212.25 L244.45,212.32 L243.98,212.38 L243.48,212.46 L242.93,212.54 L242.36,212.63 L241.78,212.72 L241.18,212.81 L240.57,212.91 L239.97,213.01 L239.39,213.11 L238.82,213.21 L238.28,213.31 L237.77,213.41 L237.23,213.54 L236.70,213.66 L236.19,213.79 L235.70,213.93 L235.22,214.06 L234.74,214.20 L234.26,214.34 L233.78,214.48 L233.29,214.62 L232.79,214.77 L232.26,214.92 L231.72,215.07 L231.15,215.22 L230.72,215.33 L230.27,215.44 L229.82,215.56 L229.35,215.67 L228.87,215.79 L228.38,215.91 L227.89,216.02 L227.39,216.15 L226.89,216.27 L226.38,216.39 L225.87,216.51 L225.36,216.64 L224.85,216.77 L224.34,216.89 L223.84,217.02 L223.33,217.16 L222.83,217.29 L222.34,217.42 L221.86,217.55 L221.38,217.68 L220.90,217.81 L220.43,217.94 L219.96,218.07 L219.49,218.20 L219.02,218.34 L218.55,218.47 L218.08,218.61 L217.60,218.74 L217.12,218.89 L216.64,219.03 L216.15,219.19 L215.66,219.34 L215.15,219.51 L214.65,219.67 L214.13,219.85 L213.60,220.03 L213.16,220.19 L212.70,220.36 L212.23,220.54 L211.75,220.72 L211.26,220.91 L210.77,221.11 L210.27,221.31 L209.77,221.51 L209.26,221.71 L208.76,221.92 L208.25,222.13 L207.75,222.33 L207.26,222.54 L206.77,222.74 L206.29,222.94 L205.81,223.13 L205.35,223.32 L204.91,223.50 L204.48,223.67 L204.06,223.84 L203.66,223.99 L203.29,224.14 L202.64,224.38 L202.04,224.60 L201.49,224.80 L200.98,224.99 L200.50,225.15 L200.04,225.31 L199.59,225.46 L199.15,225.61 L198.71,225.76 L198.26,225.91 L197.79,226.07 L197.31,226.23 L196.80,226.40 L196.30,226.58 L195.80,226.75 L195.30,226.93 L194.80,227.10 L194.31,227.27 L193.81,227.44 L193.31,227.60 L192.82,227.77 L192.32,227.92 L191.83,228.08 L191.33,228.22 L190.83,228.37 L190.33,228.52 L189.83,228.66 L189.34,228.80 L188.84,228.94 L188.35,229.08 L187.85,229.20 L187.36,229.32 L186.87,229.43 L186.38,229.54 L185.90,229.63 L185.41,229.71 L184.92,229.77 L184.44,229.83 L183.95,229.88 L183.46,229.91 L182.97,229.94 L182.48,229.96 L181.98,229.98 L181.49,229.99 L180.99,230.00 L180.50,230.00 L180.00,230.00 L179.50,230.00 L179.00,230.00 L178.48,230.00 L177.96,230.00 L177.44,229.99 L176.92,229.98 L176.41,229.96 L175.90,229.94 L175.41,229.91 L174.93,229.88 L174.46,229.83 L174.02,229.77 L173.61,229.71 L173.01,229.59 L172.45,229.46 L171.93,229.32 L171.43,229.15 L170.96,228.97 L170.50,228.77 L170.05,228.54 L169.61,228.29 L169.18,228.01 L168.77,227.70 L168.37,227.36 L167.97,226.99 L167.58,226.61 L167.20,226.21 L166.82,225.80 L166.44,225.40 L166.08,224.99 L165.73,224.59 L165.39,224.18 L165.06,223.76 L164.74,223.33 L164.42,222.89 L164.11,222.44 L163.80,221.97 L163.53,221.55 L163.27,221.10 L163.00,220.65 L162.74,220.18 L162.49,219.71 L162.24,219.24 L162.00,218.76 L161.76,218.30 L161.54,217.84 L161.30,217.33 L161.07,216.84 L160.85,216.35 L160.63,215.86 L160.43,215.37 L160.23,214.88 L160.05,214.39 L159.87,213.90 L159.70,213.40 L159.54,212.89 L159.39,212.37 L159.24,211.85 L159.10,211.33 L158.96,210.82 L158.82,210.31 L158.67,209.83 L158.51,209.29 L158.36,208.76 L158.20,208.24 L158.05,207.73 L157.89,207.24 L157.72,206.78 L157.54,206.35 L157.25,205.72 L156.93,205.18 L156.60,204.73 L156.24,204.32 L155.86,203.80 L155.56,203.35 L155.14,203.05 L154.78,202.87 L154.54,202.25 L153.95,201.98 L153.75,201.26 L152.99,201.37 L153.32,200.37Z"/><path d="M166.04,193.79 L166.31,194.08 L166.69,194.51 L167.47,194.54 L167.91,195.00 L168.24,195.51 L168.95,195.66 L169.42,195.78 L170.00,196.22 L170.22,196.51 L170.49,196.90 L170.77,197.34 L171.07,197.82 L171.38,198.32 L171.69,198.82 L171.99,199.33 L172.28,199.81 L172.56,200.27 L172.82,200.72 L173.07,201.18 L173.33,201.64 L173.60,202.12 L173.88,202.60 L174.17,203.10 L174.49,203.62 L174.76,204.05 L175.04,204.49 L175.34,204.95 L175.64,205.42 L175.95,205.89 L176.26,206.36 L176.58,206.83 L176.89,207.28 L177.21,207.73 L177.52,208.15 L177.85,208.61 L178.19,209.06 L178.52,209.50 L178.86,209.94 L179.20,210.36 L179.54,210.77 L179.88,211.17 L180.22,211.55 L180.57,211.91 L180.99,212.35 L181.41,212.78 L181.84,213.19 L182.27,213.57 L182.73,213.93 L183.22,214.26 L183.74,214.54 L184.28,214.78 L184.85,214.98 L185.44,215.14 L186.03,215.26 L186.63,215.35 L187.23,215.39 L187.81,215.40 L188.38,215.37 L188.94,215.30 L189.49,215.19 L190.04,215.04 L190.60,214.85 L191.17,214.61 L191.76,214.34 L192.20,214.11 L192.65,213.86 L193.11,213.58 L193.57,213.28 L194.04,212.97 L194.51,212.64 L194.98,212.31 L195.44,211.97 L195.91,211.62 L196.36,211.28 L196.77,210.97 L197.18,210.66 L197.59,210.34 L198.01,210.02 L198.42,209.69 L198.84,209.35 L199.26,208.99 L199.67,208.63 L200.09,208.24 L200.51,207.84 L200.93,207.42 L201.26,207.07 L201.57,206.72 L201.88,206.37 L202.19,206.01 L202.49,205.64 L202.79,205.27 L203.09,204.88 L203.40,204.49 L203.71,204.09 L204.03,203.67 L204.37,203.25 L204.72,202.81 L205.08,202.35 L205.46,201.88 L205.75,201.54 L206.04,201.18 L206.34,200.81 L206.65,200.43 L206.97,200.04 L207.29,199.64 L207.62,199.24 L207.95,198.83 L208.29,198.41 L208.63,197.99 L208.98,197.57 L209.32,197.15 L209.67,196.73 L210.02,196.31 L210.36,195.89 L210.71,195.48 L211.05,195.07 L211.39,194.67 L211.72,194.28 L212.05,193.89 L212.40,193.49 L212.75,193.09 L213.09,192.70 L213.44,192.31 L213.79,191.92 L214.13,191.53 L214.48,191.14 L214.83,190.75 L215.18,190.37 L215.52,189.99 L215.87,189.61 L216.22,189.23 L216.56,188.85 L216.91,188.47 L217.26,188.10 L217.60,187.72 L217.95,187.35 L218.29,186.98 L218.64,186.61 L219.00,186.22 L219.36,185.83 L219.73,185.44 L220.09,185.06 L220.45,184.67 L220.81,184.29 L221.17,183.91 L221.53,183.53 L221.88,183.16 L222.24,182.78 L222.60,182.41 L222.96,182.04 L223.32,181.66 L223.68,181.29 L224.04,180.92 L224.40,180.56 L224.76,180.19 L225.13,179.82 L225.49,179.45 L225.86,179.08 L226.22,178.71 L226.59,178.33 L226.96,177.96 L227.32,177.58 L227.69,177.21 L228.05,176.84 L228.42,176.47 L228.78,176.11 L229.15,175.76 L229.51,175.40 L229.87,175.06 L230.24,174.72 L230.60,174.39 L230.96,174.07 L231.32,173.76 L231.68,173.47 L232.11,173.12 L232.54,172.79 L232.97,172.48 L233.40,172.17 L233.83,171.88 L234.27,171.59 L234.70,171.31 L235.14,171.04 L235.58,170.77 L236.01,170.50 L236.46,170.22 L236.90,169.95 L237.34,169.67 L237.78,169.39 L238.23,169.10 L238.67,168.81 L239.12,168.52 L239.56,168.23 L240.01,167.94 L240.47,167.64 L240.92,167.35 L241.37,167.06 L241.82,166.77 L242.27,166.48 L242.71,166.20 L243.15,165.91 L243.58,165.63 L244.01,165.35 L244.42,165.07 L244.83,164.80 L245.30,164.49 L245.76,164.17 L246.21,163.86 L246.65,163.56 L247.08,163.25 L247.51,162.95 L247.94,162.66 L248.35,162.36 L248.76,162.08 L249.16,161.80 L249.56,161.52 L249.95,161.26 L250.33,161.00 L250.84,160.66 L251.36,160.31 L251.88,159.96 L252.40,159.62 L252.90,159.30 L253.38,158.99 L253.81,158.71 L254.20,158.45 L254.54,158.24 L254.80,158.06 L254.20,157.14 L253.94,157.30 L253.60,157.51 L253.21,157.75 L252.77,158.03 L252.28,158.33 L251.77,158.65 L251.25,158.98 L250.71,159.32 L250.18,159.66 L249.67,160.00 L249.28,160.27 L248.88,160.54 L248.48,160.81 L248.07,161.09 L247.66,161.38 L247.25,161.67 L246.83,161.97 L246.40,162.27 L245.96,162.57 L245.52,162.88 L245.08,163.18 L244.63,163.49 L244.17,163.80 L243.76,164.07 L243.34,164.35 L242.92,164.62 L242.49,164.91 L242.05,165.19 L241.61,165.48 L241.17,165.76 L240.72,166.05 L240.27,166.34 L239.82,166.64 L239.36,166.93 L238.91,167.22 L238.46,167.52 L238.01,167.81 L237.57,168.10 L237.14,168.38 L236.70,168.66 L236.26,168.93 L235.82,169.20 L235.39,169.47 L234.94,169.75 L234.50,170.02 L234.06,170.30 L233.61,170.59 L233.17,170.88 L232.72,171.19 L232.27,171.50 L231.82,171.83 L231.37,172.18 L230.92,172.53 L230.55,172.85 L230.17,173.17 L229.80,173.50 L229.43,173.84 L229.05,174.18 L228.68,174.54 L228.31,174.90 L227.94,175.26 L227.57,175.63 L227.20,176.00 L226.83,176.37 L226.46,176.74 L226.10,177.12 L225.73,177.49 L225.37,177.87 L225.00,178.24 L224.64,178.61 L224.27,178.98 L223.91,179.35 L223.55,179.71 L223.18,180.08 L222.82,180.46 L222.46,180.83 L222.10,181.20 L221.74,181.58 L221.38,181.95 L221.02,182.33 L220.66,182.71 L220.29,183.09 L219.93,183.47 L219.57,183.85 L219.21,184.24 L218.85,184.62 L218.49,185.01 L218.12,185.40 L217.76,185.79 L217.42,186.16 L217.07,186.54 L216.72,186.91 L216.38,187.28 L216.03,187.66 L215.68,188.04 L215.33,188.42 L214.99,188.80 L214.64,189.18 L214.29,189.56 L213.94,189.95 L213.59,190.34 L213.24,190.73 L212.89,191.12 L212.54,191.51 L212.19,191.91 L211.84,192.30 L211.49,192.71 L211.15,193.11 L210.81,193.50 L210.47,193.89 L210.13,194.30 L209.79,194.71 L209.44,195.13 L209.09,195.54 L208.74,195.97 L208.40,196.39 L208.05,196.81 L207.70,197.23 L207.36,197.65 L207.02,198.07 L206.69,198.48 L206.36,198.88 L206.04,199.28 L205.72,199.67 L205.41,200.05 L205.11,200.42 L204.82,200.78 L204.54,201.12 L204.15,201.60 L203.78,202.06 L203.43,202.50 L203.09,202.93 L202.76,203.35 L202.45,203.75 L202.15,204.14 L201.85,204.52 L201.56,204.89 L201.26,205.24 L200.97,205.59 L200.68,205.93 L200.38,206.26 L200.07,206.58 L199.67,206.98 L199.27,207.37 L198.87,207.73 L198.47,208.09 L198.07,208.43 L197.67,208.76 L197.27,209.08 L196.86,209.39 L196.45,209.70 L196.05,210.01 L195.64,210.32 L195.19,210.66 L194.73,211.00 L194.27,211.34 L193.82,211.66 L193.36,211.98 L192.91,212.28 L192.47,212.56 L192.05,212.82 L191.63,213.06 L191.24,213.26 L190.69,213.51 L190.18,213.72 L189.69,213.89 L189.21,214.02 L188.74,214.11 L188.27,214.17 L187.79,214.20 L187.28,214.20 L186.76,214.16 L186.24,214.08 L185.72,213.97 L185.21,213.83 L184.72,213.66 L184.26,213.46 L183.84,213.23 L183.44,212.96 L183.04,212.65 L182.65,212.30 L182.25,211.92 L181.85,211.52 L181.43,211.09 L181.11,210.74 L180.78,210.38 L180.46,210.00 L180.13,209.60 L179.80,209.19 L179.48,208.77 L179.15,208.34 L178.82,207.90 L178.48,207.45 L178.19,207.03 L177.88,206.60 L177.57,206.15 L177.26,205.69 L176.95,205.23 L176.64,204.76 L176.35,204.30 L176.05,203.85 L175.77,203.40 L175.51,202.98 L175.20,202.48 L174.91,202.00 L174.64,201.52 L174.38,201.06 L174.12,200.59 L173.86,200.13 L173.59,199.66 L173.32,199.19 L173.03,198.71 L172.74,198.20 L172.44,197.68 L172.14,197.17 L171.84,196.67 L171.56,196.21 L171.28,195.78 L171.00,195.38 L170.52,194.62 L170.08,194.11 L169.65,193.63 L169.22,193.32 L168.95,192.62 L168.18,192.56 L168.02,191.84 L167.74,191.58Z"/><path d="M258.38,213.51 L258.59,213.94 L259.22,214.32 L259.32,215.13 L259.84,215.50 L260.43,215.85 L260.86,216.20 L261.11,216.53 L261.32,216.86 L261.57,217.65 L261.63,217.99 L261.69,218.41 L261.75,218.90 L261.81,219.43 L261.88,220.00 L261.95,220.59 L262.02,221.20 L262.10,221.81 L262.20,222.42 L262.31,223.01 L262.41,223.50 L262.51,223.99 L262.62,224.49 L262.74,225.00 L262.86,225.52 L262.99,226.03 L263.12,226.54 L263.25,227.05 L263.39,227.55 L263.54,228.04 L263.68,228.52 L263.83,228.98 L264.01,229.53 L264.19,230.08 L264.39,230.62 L264.58,231.16 L264.79,231.68 L264.99,232.19 L265.21,232.68 L265.43,233.15 L265.65,233.59 L265.89,234.01 L266.27,234.62 L266.68,235.19 L267.10,235.70 L267.56,236.14 L268.06,236.50 L268.61,236.77 L269.31,236.91 L270.02,236.87 L270.70,236.70 L271.36,236.44 L271.98,236.13 L272.43,235.87 L272.88,235.56 L273.32,235.22 L273.75,234.84 L274.19,234.43 L274.62,233.98 L275.05,233.50 L275.36,233.14 L275.67,232.76 L275.98,232.36 L276.30,231.94 L276.61,231.51 L276.93,231.06 L277.24,230.59 L277.54,230.10 L277.84,229.60 L278.13,229.08 L278.36,228.63 L278.59,228.16 L278.81,227.68 L279.03,227.19 L279.24,226.68 L279.44,226.17 L279.65,225.66 L279.85,225.15 L280.05,224.63 L280.25,224.12 L280.45,223.62 L280.65,223.13 L280.86,222.64 L281.05,222.17 L281.25,221.70 L281.44,221.24 L281.63,220.77 L281.82,220.30 L282.02,219.83 L282.22,219.34 L282.42,218.84 L282.62,218.32 L282.84,217.78 L283.06,217.22 L283.23,216.79 L283.41,216.35 L283.59,215.90 L283.78,215.44 L283.97,214.97 L284.16,214.49 L284.35,214.01 L284.55,213.51 L284.75,213.01 L284.95,212.50 L285.14,211.99 L285.34,211.46 L285.53,210.93 L285.71,210.38 L285.90,209.84 L286.07,209.28 L286.21,208.83 L286.35,208.36 L286.48,207.90 L286.61,207.42 L286.74,206.94 L286.87,206.45 L287.00,205.96 L287.12,205.46 L287.25,204.96 L287.37,204.46 L287.49,203.96 L287.61,203.45 L287.74,202.95 L287.86,202.44 L287.98,201.93 L288.10,201.43 L288.22,200.93 L288.34,200.43 L288.46,199.94 L288.58,199.45 L288.70,198.96 L288.83,198.47 L288.95,197.98 L289.08,197.49 L289.20,197.00 L289.32,196.51 L289.45,196.02 L289.57,195.53 L289.70,195.04 L289.82,194.55 L289.94,194.06 L290.06,193.57 L290.18,193.08 L290.30,192.59 L290.42,192.10 L290.54,191.60 L290.65,191.11 L290.77,190.62 L290.88,190.12 L290.99,189.63 L291.09,189.13 L291.20,188.64 L291.30,188.14 L291.40,187.65 L291.49,187.15 L291.59,186.66 L291.68,186.16 L291.78,185.67 L291.87,185.17 L291.96,184.68 L292.05,184.18 L292.14,183.69 L292.23,183.19 L292.32,182.70 L292.41,182.20 L292.50,181.70 L292.60,181.21 L292.69,180.71 L292.79,180.22 L292.89,179.72 L292.99,179.23 L293.09,178.75 L293.19,178.28 L293.29,177.82 L293.39,177.36 L293.49,176.90 L293.59,176.45 L293.69,175.99 L293.79,175.53 L293.90,175.07 L294.00,174.59 L294.11,174.11 L294.21,173.61 L294.32,173.10 L294.43,172.57 L294.54,172.02 L294.65,171.46 L294.76,170.86 L294.88,170.25 L294.99,169.60 L295.06,169.19 L295.14,168.76 L295.22,168.32 L295.29,167.88 L295.37,167.42 L295.45,166.95 L295.53,166.48 L295.61,166.00 L295.69,165.51 L295.77,165.01 L295.85,164.51 L295.94,164.00 L296.02,163.48 L296.10,162.97 L296.18,162.44 L296.27,161.92 L296.35,161.39 L296.43,160.86 L296.52,160.33 L296.60,159.79 L296.68,159.26 L296.76,158.72 L296.84,158.19 L296.92,157.66 L297.00,157.12 L297.08,156.59 L297.15,156.07 L297.23,155.54 L297.30,155.02 L297.38,154.50 L297.45,153.99 L297.52,153.48 L297.59,152.98 L297.66,152.48 L297.72,151.97 L297.79,151.47 L297.86,150.96 L297.92,150.46 L297.98,149.96 L298.05,149.45 L298.11,148.95 L298.17,148.45 L298.23,147.94 L298.29,147.44 L298.35,146.94 L298.41,146.43 L298.47,145.93 L298.53,145.43 L298.59,144.93 L298.64,144.42 L298.70,143.92 L298.76,143.42 L298.81,142.91 L298.87,142.41 L298.93,141.91 L298.99,141.40 L299.04,140.90 L299.10,140.40 L299.16,139.89 L299.21,139.39 L299.27,138.89 L299.33,138.38 L299.39,137.88 L299.45,137.37 L299.51,136.87 L299.56,136.36 L299.62,135.86 L299.68,135.35 L299.74,134.85 L299.80,134.34 L299.86,133.83 L299.92,133.33 L299.97,132.82 L300.03,132.32 L300.09,131.81 L300.15,131.30 L300.20,130.79 L300.26,130.29 L300.32,129.78 L300.38,129.27 L300.43,128.77 L300.49,128.26 L300.55,127.75 L300.61,127.25 L300.66,126.74 L300.72,126.23 L300.78,125.73 L300.84,125.22 L300.89,124.71 L300.95,124.21 L301.01,123.70 L301.07,123.20 L301.12,122.69 L301.18,122.19 L301.24,121.68 L301.30,121.18 L301.36,120.67 L301.42,120.15 L301.48,119.62 L301.54,119.09 L301.60,118.55 L301.66,118.01 L301.72,117.47 L301.78,116.92 L301.84,116.37 L301.90,115.81 L301.96,115.26 L302.03,114.71 L302.09,114.15 L302.15,113.61 L302.21,113.06 L302.27,112.52 L302.33,111.98 L302.39,111.45 L302.45,110.92 L302.51,110.41 L302.57,109.90 L302.63,109.40 L302.69,108.91 L302.75,108.43 L302.81,107.96 L302.86,107.51 L302.92,107.07 L302.98,106.65 L303.03,106.24 L303.09,105.84 L303.14,105.47 L303.19,105.12 L303.32,104.32 L303.44,103.63 L303.56,103.03 L303.67,102.51 L303.79,102.05 L303.90,101.64 L304.01,101.25 L304.12,100.88 L304.22,100.51 L304.33,100.12 L304.44,99.70 L304.54,99.25 L304.64,98.75 L304.73,98.22 L304.81,97.69 L304.89,97.16 L304.97,96.63 L305.04,96.10 L305.12,95.56 L305.18,95.02 L305.25,94.49 L305.32,93.95 L305.38,93.41 L305.45,92.88 L305.52,92.35 L305.59,91.81 L305.66,91.32 L305.72,90.82 L305.80,90.32 L305.86,89.82 L305.91,89.31 L305.99,88.81 L306.06,88.31 L306.12,87.81 L306.18,87.31 L306.25,86.82 L306.35,86.32 L306.39,85.83 L306.49,85.34 L306.57,84.85 L306.62,84.35 L306.72,83.86 L306.75,83.37 L306.92,82.89 L306.91,82.39 L307.03,81.91 L307.15,81.42 L307.33,80.95 L307.33,80.45 L307.46,79.96 L307.51,79.46 L307.60,78.97 L307.82,78.50 L307.73,77.97 L308.02,77.52 L307.99,76.99 L308.07,76.49 L308.13,75.99 L308.60,75.56 L308.66,75.06 L308.43,74.49 L309.06,74.10 L308.87,73.54 L309.13,73.07 L309.04,72.54 L309.27,72.07 L309.35,71.57 L309.44,71.07 L309.33,70.53 L310.08,70.18 L309.78,69.60 L310.55,69.26 L309.95,68.61 L309.93,68.09 L310.70,67.75 L310.15,67.11 L310.51,66.68 L310.49,66.15 L311.41,65.85 L311.83,65.43 L311.03,64.72 L310.89,64.16 L311.30,63.73 L312.25,63.43 L311.25,62.67 L311.68,62.25 L311.79,61.76 L311.78,61.24 L313.16,61.05 L313.42,60.59 L313.43,60.08 L313.41,59.55 L313.05,58.94 L312.69,58.31 L314.09,58.15 L313.22,57.37 L314.23,57.12 L314.42,56.65 L314.27,56.07 L313.67,55.37 L315.16,55.26 L315.36,54.78 L314.92,54.11 L315.55,53.76 L315.86,53.31 L314.18,52.25 L315.52,52.12 L315.93,51.71 L315.01,50.85 L316.66,50.87 L316.76,50.36 L316.83,49.86 L317.20,49.47 L317.42,49.02 L317.17,48.38 L317.90,48.12 L317.14,47.28 L316.29,46.38 L317.88,46.48 L318.78,46.30 L317.19,45.08 L319.02,45.32 L317.31,44.01 L319.63,44.51 L319.15,43.74 L320.00,43.60 L318.85,42.50 L320.91,42.99 L319.01,41.48 L321.16,42.05 L320.27,41.05 L321.35,41.09 L321.85,40.83 L320.67,39.63 L321.21,39.39 L320.85,38.62 L321.13,38.22 L322.15,38.27 L322.53,37.93 L323.19,37.77 L322.52,36.77 L323.21,36.62 L323.48,36.21 L323.18,35.45 L323.71,35.23 L325.44,35.82 L325.00,34.95 L324.44,33.98 L325.08,33.83 L324.99,33.17 L326.38,33.57 L325.89,32.61 L326.93,32.76 L326.98,32.19 L325.98,30.83 L327.90,31.67 L328.41,31.45 L327.99,30.51 L328.39,30.21 L328.21,29.46 L328.05,28.66 L328.69,28.52 L328.35,27.59 L330.67,28.84 L330.66,28.20 L331.30,28.10 L330.82,27.06 L331.11,26.67 L331.83,26.65 L330.80,25.09 L332.29,25.77 L332.50,25.30 L332.20,24.33 L332.76,24.16 L334.10,24.75 L333.31,23.22 L333.67,22.94 L335.30,23.97 L334.48,22.44 L335.62,22.97 L335.20,21.81 L335.13,21.01 L336.45,21.74 L336.20,20.73 L337.06,20.94 L336.41,19.44 L338.48,21.06 L338.16,19.92 L337.63,18.49 L338.26,18.44 L339.85,19.56 L338.92,17.63 L339.59,17.63 L339.75,17.01 L341.05,17.82 L341.89,18.14 L341.52,16.88 L341.18,15.62 L341.95,15.80 L341.94,14.91 L342.73,15.11 L343.83,15.74 L344.18,15.32 L344.96,15.52 L344.87,14.48 L345.56,14.54 L345.63,13.73 L346.60,14.20 L345.76,12.12 L347.49,13.66 L347.10,12.26 L348.27,13.03 L347.87,11.66 L347.64,10.57 L347.98,10.27 L348.72,10.13 L350.43,11.20 L349.81,9.43 L350.70,9.54 L350.60,8.51 L352.49,9.84 L352.74,9.30 L352.12,7.79 L353.29,8.41 L352.32,6.56 L354.00,7.93 L353.82,7.12 L353.95,6.81 L354.54,6.27 L355.20,6.20 L354.97,4.88 L355.57,5.04 L355.95,4.97 L353.61,0.96 L353.68,1.72 L352.70,0.94 L352.26,1.51 L352.00,2.61 L351.51,3.55 L349.76,2.05 L350.36,3.53 L349.44,3.15 L349.10,3.51 L348.22,3.25 L347.64,3.37 L347.64,4.18 L346.99,4.25 L346.74,4.81 L346.57,5.51 L345.62,5.26 L346.30,7.07 L344.41,5.65 L344.24,6.06 L344.65,7.33 L344.45,7.80 L343.49,7.26 L343.79,8.51 L343.53,8.99 L342.60,8.55 L342.71,9.60 L341.63,8.99 L340.96,8.96 L340.48,9.21 L339.65,8.99 L339.56,9.81 L338.85,9.76 L338.23,9.85 L339.23,12.13 L338.95,12.65 L338.30,12.69 L337.70,12.78 L336.79,12.47 L335.94,12.28 L335.24,12.28 L336.08,14.16 L334.70,13.33 L334.02,13.36 L334.81,15.14 L334.30,15.37 L332.79,14.43 L332.28,14.67 L333.38,16.74 L331.51,15.43 L331.73,16.49 L331.48,16.99 L332.09,18.43 L331.20,18.23 L330.60,18.34 L329.27,17.69 L329.43,18.59 L329.85,19.74 L328.49,19.22 L328.29,19.84 L327.23,19.63 L327.03,20.23 L326.83,20.81 L326.65,21.40 L325.62,21.23 L325.33,21.70 L325.92,22.91 L326.30,23.92 L324.57,23.17 L324.18,23.54 L325.61,25.38 L324.67,25.29 L323.57,25.09 L322.62,25.01 L324.15,26.88 L323.28,26.84 L322.92,27.22 L323.04,27.96 L322.81,28.43 L322.53,28.87 L321.71,28.90 L321.90,29.69 L320.53,29.34 L319.65,29.36 L319.25,29.72 L318.95,30.15 L319.35,31.07 L319.02,31.48 L318.41,31.69 L317.94,32.00 L319.48,33.61 L317.70,33.10 L317.82,33.81 L318.84,35.06 L316.43,34.19 L317.52,35.47 L317.72,36.19 L315.72,35.62 L315.65,36.19 L315.30,36.60 L316.63,37.94 L316.71,38.57 L314.52,37.99 L315.14,38.91 L314.64,39.25 L315.72,40.39 L314.52,40.39 L314.76,41.10 L314.38,41.51 L314.93,42.36 L312.82,42.00 L313.43,42.87 L313.65,43.56 L312.85,43.81 L312.96,44.45 L313.88,45.41 L312.52,45.45 L311.78,45.74 L312.64,46.65 L312.76,47.26 L311.83,47.47 L311.18,47.80 L312.44,48.81 L312.48,49.41 L312.32,49.94 L310.24,49.84 L310.82,50.62 L311.49,51.41 L310.33,51.63 L311.26,52.48 L311.28,53.05 L309.33,53.04 L310.93,54.06 L309.16,54.11 L309.49,54.75 L309.67,55.34 L309.33,55.78 L309.18,56.27 L308.58,56.68 L308.57,57.24 L309.84,58.12 L308.61,58.36 L308.67,58.92 L308.99,59.53 L308.63,59.98 L309.34,60.67 L307.99,60.88 L308.89,61.61 L308.72,62.09 L308.28,62.50 L307.66,62.87 L308.20,63.52 L308.12,64.02 L307.94,64.50 L307.93,65.02 L307.69,65.49 L307.07,65.86 L307.55,66.49 L307.82,67.08 L307.69,67.57 L307.70,68.09 L307.25,68.51 L307.45,69.07 L307.12,69.52 L307.19,70.06 L307.22,70.59 L306.41,70.94 L306.92,71.57 L306.79,72.07 L306.31,72.49 L306.17,72.99 L306.20,73.52 L306.38,74.08 L305.98,74.53 L305.93,75.04 L305.97,75.57 L305.99,76.10 L305.96,76.61 L305.81,77.10 L305.83,77.62 L305.77,78.12 L305.58,78.60 L305.46,79.09 L305.47,79.60 L305.40,80.10 L305.32,80.59 L305.21,81.08 L305.10,81.57 L305.01,82.06 L305.01,82.57 L304.90,83.06 L304.81,83.56 L304.74,84.06 L304.63,84.55 L304.58,85.06 L304.54,85.57 L304.43,86.07 L304.42,86.58 L304.35,87.08 L304.26,87.58 L304.23,88.09 L304.14,88.59 L304.09,89.09 L304.05,89.59 L303.98,90.09 L303.92,90.59 L303.87,91.09 L303.81,91.59 L303.74,92.12 L303.68,92.67 L303.62,93.21 L303.56,93.74 L303.50,94.28 L303.44,94.82 L303.38,95.35 L303.32,95.88 L303.26,96.40 L303.19,96.92 L303.12,97.44 L303.04,97.95 L302.96,98.45 L302.88,98.92 L302.80,99.33 L302.71,99.71 L302.61,100.07 L302.52,100.43 L302.41,100.81 L302.31,101.21 L302.20,101.66 L302.08,102.15 L301.97,102.71 L301.85,103.34 L301.73,104.06 L301.61,104.88 L301.56,105.25 L301.51,105.64 L301.46,106.03 L301.41,106.45 L301.36,106.88 L301.31,107.32 L301.26,107.78 L301.21,108.25 L301.16,108.73 L301.10,109.23 L301.05,109.73 L301.00,110.24 L300.94,110.76 L300.89,111.29 L300.83,111.82 L300.78,112.36 L300.72,112.90 L300.67,113.45 L300.61,114.00 L300.56,114.55 L300.50,115.11 L300.45,115.66 L300.39,116.21 L300.34,116.76 L300.28,117.31 L300.23,117.86 L300.17,118.40 L300.12,118.94 L300.07,119.47 L300.01,120.00 L299.96,120.51 L299.90,121.02 L299.85,121.53 L299.80,122.03 L299.74,122.54 L299.69,123.04 L299.63,123.55 L299.58,124.06 L299.52,124.56 L299.47,125.07 L299.41,125.58 L299.36,126.08 L299.31,126.59 L299.25,127.10 L299.20,127.60 L299.14,128.11 L299.09,128.62 L299.04,129.13 L298.98,129.63 L298.93,130.14 L298.87,130.65 L298.82,131.15 L298.76,131.66 L298.71,132.17 L298.65,132.67 L298.60,133.18 L298.54,133.69 L298.49,134.19 L298.43,134.70 L298.38,135.21 L298.32,135.71 L298.27,136.22 L298.21,136.72 L298.15,137.23 L298.10,137.73 L298.04,138.24 L297.98,138.74 L297.93,139.25 L297.87,139.75 L297.82,140.25 L297.76,140.76 L297.71,141.26 L297.65,141.76 L297.60,142.27 L297.54,142.77 L297.48,143.27 L297.43,143.78 L297.37,144.28 L297.32,144.78 L297.26,145.28 L297.20,145.79 L297.15,146.29 L297.09,146.79 L297.03,147.29 L296.97,147.79 L296.91,148.30 L296.85,148.80 L296.79,149.30 L296.73,149.80 L296.67,150.30 L296.61,150.81 L296.54,151.31 L296.48,151.81 L296.41,152.31 L296.35,152.81 L296.28,153.32 L296.21,153.82 L296.14,154.33 L296.07,154.85 L296.00,155.37 L295.92,155.89 L295.85,156.42 L295.77,156.94 L295.70,157.48 L295.62,158.01 L295.54,158.54 L295.46,159.08 L295.38,159.61 L295.30,160.14 L295.22,160.67 L295.14,161.20 L295.06,161.73 L294.98,162.26 L294.89,162.78 L294.81,163.29 L294.73,163.81 L294.65,164.31 L294.57,164.81 L294.49,165.31 L294.41,165.80 L294.33,166.28 L294.26,166.75 L294.18,167.22 L294.10,167.67 L294.03,168.12 L293.95,168.56 L293.88,168.98 L293.81,169.40 L293.70,170.03 L293.58,170.64 L293.47,171.23 L293.36,171.79 L293.25,172.33 L293.15,172.86 L293.04,173.36 L292.94,173.86 L292.83,174.34 L292.73,174.81 L292.62,175.27 L292.52,175.73 L292.42,176.19 L292.32,176.64 L292.22,177.10 L292.11,177.56 L292.01,178.03 L291.91,178.50 L291.81,178.99 L291.71,179.48 L291.61,179.98 L291.51,180.49 L291.42,180.98 L291.33,181.48 L291.23,181.98 L291.14,182.48 L291.05,182.98 L290.96,183.47 L290.87,183.97 L290.78,184.46 L290.69,184.95 L290.60,185.45 L290.50,185.94 L290.41,186.43 L290.32,186.92 L290.22,187.41 L290.12,187.90 L290.02,188.39 L289.92,188.88 L289.81,189.37 L289.71,189.86 L289.60,190.35 L289.48,190.84 L289.37,191.33 L289.25,191.82 L289.14,192.31 L289.02,192.80 L288.90,193.28 L288.78,193.77 L288.66,194.26 L288.53,194.75 L288.41,195.24 L288.29,195.73 L288.16,196.22 L288.04,196.70 L287.91,197.19 L287.79,197.68 L287.66,198.17 L287.54,198.66 L287.42,199.15 L287.30,199.65 L287.17,200.15 L287.05,200.65 L286.93,201.15 L286.81,201.66 L286.69,202.16 L286.57,202.67 L286.45,203.17 L286.33,203.67 L286.20,204.18 L286.08,204.68 L285.96,205.17 L285.83,205.66 L285.71,206.15 L285.58,206.63 L285.45,207.10 L285.33,207.57 L285.19,208.03 L285.06,208.48 L284.93,208.92 L284.75,209.46 L284.58,210.00 L284.39,210.53 L284.21,211.05 L284.02,211.57 L283.82,212.08 L283.63,212.58 L283.44,213.07 L283.24,213.56 L283.05,214.04 L282.85,214.52 L282.66,214.98 L282.48,215.44 L282.29,215.90 L282.11,216.34 L281.94,216.78 L281.72,217.34 L281.51,217.88 L281.30,218.39 L281.10,218.89 L280.91,219.37 L280.71,219.85 L280.52,220.31 L280.33,220.78 L280.14,221.24 L279.94,221.71 L279.75,222.18 L279.55,222.67 L279.34,223.17 L279.14,223.68 L278.94,224.19 L278.73,224.71 L278.53,225.22 L278.33,225.73 L278.13,226.23 L277.92,226.72 L277.71,227.19 L277.50,227.65 L277.29,228.10 L277.07,228.52 L276.80,229.00 L276.52,229.48 L276.23,229.94 L275.93,230.39 L275.64,230.81 L275.34,231.23 L275.03,231.63 L274.73,232.00 L274.44,232.37 L274.15,232.70 L273.74,233.16 L273.34,233.58 L272.95,233.95 L272.56,234.29 L272.17,234.59 L271.79,234.85 L271.42,235.07 L270.87,235.34 L270.33,235.55 L269.83,235.68 L269.39,235.71 L268.99,235.63 L268.68,235.48 L268.34,235.23 L267.98,234.89 L267.63,234.46 L267.27,233.96 L266.91,233.39 L266.71,233.03 L266.51,232.63 L266.30,232.19 L266.10,231.73 L265.90,231.24 L265.71,230.74 L265.52,230.22 L265.33,229.69 L265.15,229.15 L264.97,228.62 L264.83,228.16 L264.69,227.70 L264.55,227.22 L264.41,226.73 L264.28,226.23 L264.15,225.73 L264.03,225.23 L263.91,224.73 L263.79,224.23 L263.68,223.74 L263.58,223.26 L263.49,222.79 L263.39,222.23 L263.31,221.64 L263.24,221.05 L263.18,220.46 L263.12,219.87 L263.07,219.30 L263.02,218.76 L262.96,218.26 L262.90,217.79 L262.83,217.35 L262.61,216.41 L262.36,215.83 L262.14,215.40 L261.94,214.79 L261.62,214.20 L261.57,213.55 L261.07,213.03 L260.59,212.54 L260.32,212.16Z"/><path d="M303.74,217.73 L304.16,217.92 L304.82,218.02 L305.66,218.08 L305.86,218.44 L306.31,218.63 L306.75,218.87 L307.19,219.15 L307.62,219.45 L308.05,219.77 L308.43,220.12 L308.79,220.42 L309.11,220.71 L309.42,221.03 L309.73,221.46 L310.06,222.07 L310.21,222.41 L310.38,222.82 L310.55,223.28 L310.72,223.77 L310.89,224.30 L311.07,224.84 L311.24,225.40 L311.41,225.96 L311.58,226.52 L311.75,227.06 L311.92,227.57 L312.08,228.06 L312.24,228.50 L312.45,229.08 L312.64,229.63 L312.83,230.16 L313.02,230.66 L313.20,231.13 L313.38,231.58 L313.57,232.01 L313.77,232.42 L313.98,232.80 L314.35,233.41 L314.74,233.97 L315.17,234.46 L315.67,234.85 L316.25,235.08 L316.85,235.16 L317.48,235.10 L318.13,234.89 L318.78,234.50 L319.42,233.93 L319.71,233.61 L319.99,233.26 L320.28,232.88 L320.57,232.46 L320.86,232.02 L321.15,231.56 L321.45,231.08 L321.74,230.59 L322.02,230.08 L322.30,229.58 L322.57,229.07 L322.83,228.57 L323.05,228.16 L323.25,227.74 L323.45,227.33 L323.64,226.92 L323.83,226.50 L324.02,226.08 L324.20,225.64 L324.39,225.19 L324.57,224.73 L324.76,224.24 L324.96,223.72 L325.15,223.18 L325.36,222.60 L325.57,222.00 L325.71,221.59 L325.85,221.16 L326.00,220.72 L326.15,220.26 L326.30,219.79 L326.46,219.31 L326.62,218.81 L326.77,218.31 L326.93,217.80 L327.09,217.28 L327.26,216.76 L327.42,216.23 L327.57,215.69 L327.73,215.16 L327.89,214.62 L328.04,214.09 L328.19,213.55 L328.34,213.02 L328.48,212.49 L328.62,211.97 L328.75,211.45 L328.88,210.95 L329.01,210.44 L329.13,209.94 L329.24,209.43 L329.36,208.93 L329.47,208.43 L329.58,207.92 L329.69,207.42 L329.79,206.92 L329.89,206.41 L329.99,205.91 L330.09,205.41 L330.19,204.91 L330.28,204.40 L330.37,203.90 L330.47,203.40 L330.56,202.90 L330.65,202.40 L330.74,201.90 L330.82,201.40 L330.91,200.90 L331.00,200.40 L331.09,199.90 L331.18,199.41 L331.27,198.91 L331.35,198.41 L331.43,197.91 L331.51,197.41 L331.59,196.92 L331.67,196.42 L331.75,195.93 L331.83,195.43 L331.91,194.94 L331.98,194.44 L332.06,193.95 L332.13,193.45 L332.20,192.96 L332.28,192.46 L332.35,191.97 L332.42,191.47 L332.50,190.97 L332.57,190.48 L332.64,189.98 L332.72,189.49 L332.79,188.99 L332.87,188.49 L332.94,187.99 L333.02,187.49 L333.09,186.99 L333.17,186.49 L333.24,185.99 L333.31,185.49 L333.39,184.99 L333.46,184.49 L333.53,183.99 L333.61,183.49 L333.68,182.99 L333.75,182.49 L333.82,181.99 L333.90,181.49 L333.97,180.99 L334.04,180.49 L334.11,179.99 L334.18,179.49 L334.25,178.98 L334.32,178.48 L334.39,177.98 L334.46,177.48 L334.54,176.98 L334.61,176.48 L334.68,175.98 L334.75,175.48 L334.82,174.98 L334.89,174.48 L334.96,173.98 L335.03,173.48 L335.11,172.98 L335.18,172.48 L335.25,171.98 L335.31,171.47 L335.38,170.97 L335.45,170.47 L335.52,169.97 L335.58,169.47 L335.65,168.97 L335.71,168.47 L335.77,167.97 L335.84,167.47 L335.90,166.97 L335.96,166.45 L336.02,165.93 L336.08,165.40 L336.13,164.88 L336.19,164.36 L336.24,163.84 L336.30,163.32 L336.35,162.81 L336.40,162.29 L336.45,161.77 L336.50,161.25 L336.55,160.73 L336.60,160.21 L336.65,159.69 L336.70,159.18 L336.75,158.66 L336.80,158.14 L336.85,157.62 L336.90,157.10 L336.95,156.58 L337.00,156.06 L337.04,155.56 L337.09,155.06 L337.14,154.57 L337.18,154.08 L337.23,153.58 L337.27,153.09 L337.32,152.60 L337.36,152.11 L337.41,151.62 L337.45,151.12 L337.50,150.63 L337.54,150.13 L337.59,149.64 L337.63,149.14 L337.68,148.64 L337.72,148.14 L337.77,147.63 L337.81,147.12 L337.86,146.61 L337.90,146.10 L337.95,145.58 L338.00,145.05 L338.04,144.57 L338.09,144.08 L338.13,143.58 L338.18,143.08 L338.23,142.58 L338.28,142.07 L338.32,141.56 L338.37,141.04 L338.42,140.52 L338.47,140.01 L338.52,139.49 L338.57,138.97 L338.61,138.45 L338.66,137.93 L338.71,137.42 L338.76,136.90 L338.81,136.39 L338.85,135.89 L338.90,135.38 L338.95,134.89 L338.99,134.39 L339.04,133.91 L339.08,133.43 L339.12,132.96 L339.17,132.40 L339.22,131.85 L339.27,131.30 L339.32,130.76 L339.36,130.23 L339.41,129.71 L339.45,129.19 L339.50,128.67 L339.54,128.16 L339.59,127.65 L339.63,127.14 L339.67,126.63 L339.72,126.13 L339.76,125.62 L339.81,125.12 L339.85,124.61 L339.90,124.10 L339.95,123.59 L340.00,123.08 L340.05,122.56 L340.10,122.04 L340.15,121.53 L340.21,121.01 L340.27,120.49 L340.32,119.97 L340.38,119.45 L340.44,118.93 L340.50,118.41 L340.56,117.89 L340.61,117.37 L340.67,116.85 L340.73,116.33 L340.79,115.81 L340.85,115.29 L340.91,114.77 L340.97,114.25 L341.03,113.73 L341.08,113.21 L341.14,112.69 L341.20,112.17 L341.25,111.65 L341.31,111.13 L341.36,110.61 L341.41,110.09 L341.46,109.57 L341.52,109.05 L341.57,108.53 L341.62,108.01 L341.67,107.49 L341.72,106.97 L341.77,106.45 L341.82,105.93 L341.88,105.41 L341.93,104.89 L341.98,104.37 L342.03,103.85 L342.08,103.33 L342.14,102.81 L342.19,102.30 L342.25,101.77 L342.30,101.28 L342.36,100.78 L342.41,100.28 L342.46,99.79 L342.52,99.29 L342.57,98.79 L342.62,98.30 L342.68,97.80 L342.73,97.30 L342.79,96.81 L342.84,96.31 L342.90,95.81 L342.95,95.32 L343.01,94.82 L343.07,94.33 L343.13,93.83 L343.19,93.33 L343.25,92.84 L343.31,92.34 L343.38,91.85 L343.44,91.35 L343.51,90.86 L343.58,90.36 L343.66,89.85 L343.73,89.34 L343.81,88.83 L343.88,88.32 L343.96,87.81 L344.04,87.30 L344.12,86.79 L344.18,86.27 L344.27,85.77 L344.38,85.27 L344.46,84.77 L344.53,84.27 L344.56,83.77 L344.66,83.28 L344.82,82.81 L344.82,82.33 L344.93,81.87 L344.97,81.40 L345.12,80.96 L345.27,80.39 L345.28,79.81 L345.33,79.24 L345.47,78.69 L345.49,78.13 L345.68,77.62 L345.94,77.12 L345.88,76.57 L346.13,76.09 L346.35,75.61 L346.37,75.11 L346.16,74.57 L346.42,74.12 L346.35,73.62 L346.54,73.18 L346.65,72.73 L347.23,72.25 L347.03,71.61 L347.30,71.11 L347.16,70.53 L347.81,70.16 L347.39,69.52 L347.57,69.05 L348.16,68.69 L348.09,68.15 L348.45,67.73 L348.41,67.17 L348.36,66.60 L349.16,66.36 L348.78,65.72 L349.91,65.63 L349.44,64.95 L349.87,64.61 L349.90,64.12 L349.57,63.46 L349.73,62.99 L351.12,62.99 L351.21,62.46 L351.31,61.90 L350.70,61.04 L351.01,60.52 L351.44,60.19 L352.91,60.24 L353.09,59.78 L352.38,58.99 L352.56,58.52 L352.61,58.00 L352.75,57.51 L354.17,57.49 L353.42,56.67 L352.74,55.86 L354.47,55.99 L353.74,55.16 L354.90,55.11 L354.87,54.58 L354.40,53.84 L354.42,53.34 L355.81,53.53 L354.90,52.57 L355.98,52.64 L354.71,51.35 L355.54,51.29 L356.32,51.20 L357.03,51.10 L356.62,50.24 L357.80,50.47 L357.21,49.46 L358.69,49.93 L359.23,49.74 L358.51,48.59 L358.03,47.62 L360.05,48.57 L359.81,47.78 L360.20,47.49 L360.61,47.21 L360.65,46.67 L360.90,46.18 L361.26,45.81 L360.28,44.34 L361.50,44.72 L361.36,43.95 L362.54,44.37 L362.54,43.73 L362.02,42.59 L362.90,42.73 L363.00,42.13 L363.92,42.28 L364.59,42.17 L364.21,41.06 L364.05,40.25 L364.97,40.40 L364.95,39.73 L365.82,39.84 L366.65,39.92 L366.84,39.43 L367.23,39.14 L368.05,39.24 L368.36,38.89 L367.78,37.70 L368.57,37.80 L369.61,38.19 L369.26,37.18 L370.13,37.45 L369.03,35.50 L370.30,36.28 L370.68,36.01 L370.59,35.16 L370.70,34.53 L372.40,35.84 L372.75,35.52 L372.50,34.42 L373.54,34.98 L372.97,33.43 L374.31,34.43 L373.55,32.57 L373.69,31.92 L374.58,32.40 L375.47,32.96 L374.70,30.90 L375.46,31.30 L376.48,32.36 L376.21,30.88 L377.44,32.54 L377.39,31.40 L377.83,31.35 L378.34,31.47 L378.80,31.37 L379.07,30.62 L379.37,29.84 L380.02,30.14 L380.79,30.72 L380.71,28.66 L381.66,29.58 L382.69,30.49 L382.33,27.99 L383.29,28.83 L384.09,29.32 L384.32,28.52 L384.69,28.04 L385.74,28.99 L385.56,27.34 L385.76,26.52 L387.04,27.85 L387.00,26.58 L388.30,27.87 L388.21,26.53 L388.72,26.32 L388.71,25.21 L390.10,26.53 L389.74,24.85 L391.07,25.84 L390.42,23.67 L392.41,25.50 L392.49,24.46 L393.22,24.39 L393.39,23.55 L393.97,23.31 L393.72,22.00 L393.90,21.32 L394.73,21.58 L395.43,21.74 L394.87,20.32 L395.07,20.01 L396.11,20.96 L392.42,15.87 L393.28,17.57 L392.42,17.04 L392.63,18.02 L392.04,18.01 L390.87,17.28 L389.91,16.89 L390.75,18.95 L388.92,17.41 L389.64,19.39 L389.42,20.09 L387.43,18.20 L387.40,19.11 L387.05,19.49 L386.40,19.34 L387.09,21.38 L385.95,20.36 L385.88,21.21 L385.16,20.91 L385.26,22.14 L383.99,20.78 L384.00,21.87 L383.05,21.08 L382.62,21.31 L382.94,23.12 L382.25,22.84 L381.18,21.73 L381.06,22.64 L380.68,22.98 L380.03,22.64 L379.87,23.42 L379.11,22.60 L379.30,24.51 L378.55,23.76 L378.28,24.52 L377.65,24.23 L377.29,24.91 L376.80,25.17 L376.42,25.84 L375.40,24.76 L374.94,25.33 L374.54,26.05 L374.12,26.68 L373.43,26.76 L371.99,25.36 L372.08,26.62 L371.17,26.23 L371.52,27.79 L370.54,27.34 L370.32,27.99 L369.84,28.29 L369.68,29.01 L368.94,28.95 L368.91,29.82 L367.34,28.72 L367.85,30.24 L367.60,30.77 L366.94,30.81 L365.71,30.17 L366.69,32.10 L365.53,31.54 L366.16,33.10 L365.07,32.78 L363.45,31.95 L363.84,33.16 L364.31,34.38 L362.92,33.82 L363.02,34.64 L361.54,34.02 L362.49,35.57 L362.67,36.40 L362.47,36.88 L360.48,35.78 L361.05,36.92 L360.75,37.28 L359.41,36.68 L359.71,37.67 L359.80,38.46 L360.17,39.50 L359.53,39.60 L359.29,40.07 L358.76,40.28 L358.81,41.01 L357.12,40.22 L356.84,40.70 L357.54,42.02 L355.97,41.47 L355.48,41.85 L355.89,42.95 L355.27,43.05 L355.90,44.13 L354.41,43.58 L354.65,44.40 L353.56,44.19 L353.95,45.14 L352.69,44.85 L352.98,45.74 L352.33,45.94 L352.05,46.43 L352.17,47.19 L351.51,47.43 L351.17,47.89 L351.22,48.61 L351.23,49.29 L350.88,49.75 L349.74,49.79 L350.13,50.64 L350.40,51.40 L349.68,51.68 L349.36,52.15 L349.32,52.75 L348.94,53.20 L348.59,53.67 L349.73,54.70 L349.41,55.16 L348.64,55.44 L347.75,55.68 L349.31,56.80 L348.87,57.18 L347.88,57.34 L348.27,58.00 L347.41,58.17 L348.00,58.87 L347.20,59.02 L347.72,59.85 L346.98,60.16 L346.58,60.59 L347.65,61.59 L346.96,61.87 L346.23,62.13 L346.75,62.88 L346.09,63.16 L346.68,63.92 L346.18,64.27 L346.58,64.94 L345.44,65.09 L346.17,65.88 L345.99,66.40 L345.71,66.87 L345.04,67.22 L344.93,67.75 L345.29,68.40 L344.70,68.78 L344.66,69.33 L344.64,69.89 L344.53,70.43 L344.69,71.06 L344.23,71.57 L344.24,72.20 L344.06,72.65 L344.44,73.22 L344.09,73.65 L343.92,74.13 L343.82,74.62 L344.08,75.19 L343.98,75.70 L343.74,76.19 L343.66,76.72 L343.63,77.26 L343.45,77.79 L343.40,78.35 L343.45,78.93 L343.34,79.49 L343.23,80.06 L343.04,80.63 L342.98,81.09 L342.96,81.55 L342.86,82.02 L342.81,82.50 L342.81,83.00 L342.68,83.48 L342.68,83.99 L342.60,84.49 L342.53,84.99 L342.42,85.50 L342.39,86.02 L342.31,86.53 L342.25,87.05 L342.18,87.56 L342.11,88.08 L342.05,88.60 L341.99,89.11 L341.93,89.63 L341.87,90.14 L341.81,90.64 L341.76,91.15 L341.70,91.65 L341.64,92.15 L341.59,92.65 L341.54,93.15 L341.49,93.65 L341.44,94.15 L341.39,94.65 L341.34,95.15 L341.29,95.65 L341.25,96.15 L341.20,96.65 L341.15,97.15 L341.11,97.64 L341.06,98.14 L341.02,98.64 L340.98,99.14 L340.93,99.64 L340.89,100.13 L340.84,100.63 L340.80,101.13 L340.75,101.63 L340.70,102.15 L340.65,102.67 L340.61,103.19 L340.56,103.71 L340.51,104.23 L340.46,104.75 L340.42,105.27 L340.37,105.80 L340.32,106.32 L340.28,106.84 L340.23,107.36 L340.19,107.87 L340.14,108.39 L340.09,108.91 L340.05,109.43 L340.00,109.95 L339.95,110.47 L339.90,110.99 L339.85,111.51 L339.80,112.03 L339.75,112.55 L339.70,113.07 L339.65,113.59 L339.60,114.11 L339.54,114.63 L339.49,115.15 L339.44,115.67 L339.38,116.19 L339.33,116.71 L339.27,117.23 L339.22,117.75 L339.16,118.27 L339.11,118.79 L339.06,119.31 L339.00,119.83 L338.95,120.35 L338.90,120.87 L338.85,121.39 L338.80,121.92 L338.75,122.44 L338.70,122.96 L338.66,123.47 L338.61,123.99 L338.57,124.50 L338.52,125.00 L338.48,125.51 L338.44,126.02 L338.40,126.52 L338.36,127.03 L338.31,127.54 L338.27,128.05 L338.23,128.56 L338.19,129.08 L338.15,129.60 L338.11,130.13 L338.06,130.66 L338.02,131.19 L337.97,131.74 L337.93,132.29 L337.88,132.84 L337.84,133.32 L337.79,133.80 L337.75,134.28 L337.71,134.78 L337.66,135.27 L337.62,135.78 L337.58,136.28 L337.53,136.79 L337.48,137.31 L337.44,137.82 L337.39,138.34 L337.35,138.86 L337.30,139.38 L337.25,139.89 L337.21,140.41 L337.16,140.93 L337.11,141.44 L337.07,141.96 L337.02,142.47 L336.98,142.97 L336.93,143.47 L336.89,143.97 L336.85,144.46 L336.80,144.95 L336.76,145.47 L336.71,145.99 L336.66,146.50 L336.62,147.01 L336.57,147.52 L336.53,148.03 L336.48,148.53 L336.44,149.03 L336.39,149.53 L336.35,150.03 L336.30,150.52 L336.26,151.02 L336.21,151.51 L336.17,152.00 L336.12,152.49 L336.08,152.98 L336.03,153.47 L335.99,153.97 L335.94,154.46 L335.90,154.95 L335.85,155.45 L335.80,155.94 L335.75,156.46 L335.70,156.98 L335.65,157.51 L335.61,158.02 L335.56,158.54 L335.51,159.06 L335.46,159.58 L335.41,160.10 L335.36,160.62 L335.31,161.13 L335.26,161.65 L335.21,162.17 L335.16,162.68 L335.10,163.20 L335.05,163.72 L335.00,164.24 L334.94,164.75 L334.88,165.27 L334.82,165.79 L334.77,166.31 L334.70,166.83 L334.64,167.33 L334.58,167.82 L334.52,168.32 L334.46,168.82 L334.39,169.32 L334.33,169.81 L334.26,170.31 L334.19,170.81 L334.13,171.31 L334.06,171.81 L333.99,172.31 L333.92,172.81 L333.85,173.31 L333.78,173.81 L333.70,174.31 L333.63,174.81 L333.56,175.31 L333.49,175.81 L333.42,176.31 L333.35,176.82 L333.28,177.32 L333.21,177.82 L333.14,178.32 L333.06,178.82 L332.99,179.32 L332.92,179.82 L332.85,180.32 L332.78,180.82 L332.71,181.32 L332.64,181.82 L332.56,182.32 L332.49,182.82 L332.42,183.32 L332.35,183.82 L332.27,184.32 L332.20,184.82 L332.13,185.32 L332.05,185.82 L331.98,186.32 L331.90,186.82 L331.83,187.32 L331.76,187.81 L331.68,188.31 L331.61,188.81 L331.53,189.31 L331.46,189.81 L331.38,190.30 L331.31,190.80 L331.24,191.29 L331.16,191.79 L331.09,192.28 L331.02,192.78 L330.94,193.27 L330.87,193.77 L330.79,194.26 L330.72,194.75 L330.64,195.25 L330.57,195.74 L330.49,196.23 L330.41,196.73 L330.33,197.22 L330.25,197.72 L330.17,198.21 L330.08,198.70 L330.00,199.20 L329.91,199.70 L329.82,200.19 L329.73,200.69 L329.64,201.19 L329.55,201.69 L329.47,202.19 L329.38,202.69 L329.28,203.18 L329.19,203.68 L329.10,204.18 L329.01,204.68 L328.91,205.18 L328.81,205.68 L328.71,206.18 L328.61,206.68 L328.51,207.17 L328.41,207.67 L328.30,208.17 L328.19,208.67 L328.08,209.16 L327.96,209.66 L327.84,210.16 L327.72,210.65 L327.59,211.16 L327.46,211.66 L327.32,212.18 L327.18,212.70 L327.03,213.23 L326.89,213.76 L326.73,214.29 L326.58,214.82 L326.42,215.35 L326.27,215.88 L326.11,216.41 L325.95,216.93 L325.79,217.44 L325.63,217.95 L325.47,218.45 L325.32,218.94 L325.16,219.42 L325.01,219.89 L324.86,220.34 L324.71,220.78 L324.57,221.20 L324.43,221.60 L324.22,222.21 L324.02,222.77 L323.83,223.31 L323.64,223.81 L323.46,224.29 L323.28,224.74 L323.10,225.18 L322.92,225.60 L322.74,226.01 L322.55,226.42 L322.37,226.82 L322.17,227.22 L321.97,227.62 L321.77,228.03 L321.51,228.51 L321.25,229.00 L320.98,229.50 L320.70,229.98 L320.42,230.46 L320.13,230.93 L319.85,231.37 L319.57,231.79 L319.30,232.17 L319.04,232.52 L318.79,232.83 L318.58,233.07 L318.06,233.54 L317.62,233.80 L317.23,233.93 L316.88,233.96 L316.55,233.92 L316.27,233.81 L315.99,233.59 L315.69,233.23 L315.36,232.76 L315.02,232.20 L314.84,231.87 L314.66,231.51 L314.49,231.11 L314.32,230.69 L314.14,230.23 L313.96,229.75 L313.77,229.23 L313.57,228.68 L313.36,228.10 L313.21,227.67 L313.06,227.20 L312.90,226.69 L312.73,226.16 L312.56,225.61 L312.39,225.05 L312.21,224.48 L312.03,223.93 L311.85,223.39 L311.68,222.87 L311.50,222.39 L311.32,221.94 L311.14,221.53 L310.77,220.83 L310.38,220.27 L310.00,219.83 L309.64,219.48 L309.29,219.17 L308.95,218.83 L308.62,218.40 L308.26,217.97 L307.90,217.54 L307.51,217.16 L307.20,216.74 L306.82,216.41 L306.28,215.61 L305.73,215.03 L305.31,214.77Z"/><path d="M343.14,217.58 L343.68,217.66 L344.35,217.83 L344.37,218.49 L344.80,218.95 L345.20,219.40 L345.41,219.93 L345.87,220.32 L346.24,220.63 L346.55,220.90 L346.86,221.23 L347.20,221.76 L347.35,222.11 L347.50,222.52 L347.66,222.97 L347.82,223.45 L347.98,223.96 L348.15,224.49 L348.32,225.04 L348.48,225.61 L348.65,226.18 L348.82,226.76 L348.95,227.21 L349.07,227.68 L349.19,228.17 L349.32,228.66 L349.44,229.17 L349.57,229.68 L349.69,230.20 L349.82,230.73 L349.96,231.26 L350.09,231.79 L350.23,232.32 L350.37,232.85 L350.52,233.37 L350.66,233.85 L350.81,234.35 L350.95,234.86 L351.10,235.37 L351.25,235.90 L351.40,236.42 L351.56,236.94 L351.72,237.45 L351.88,237.95 L352.05,238.44 L352.22,238.91 L352.39,239.35 L352.58,239.78 L352.77,240.17 L353.09,240.79 L353.44,241.38 L353.80,241.92 L354.17,242.40 L354.57,242.84 L354.99,243.20 L355.45,243.49 L355.97,243.68 L356.57,243.74 L357.18,243.63 L357.74,243.40 L358.28,243.10 L358.80,242.74 L359.30,242.36 L359.78,241.96 L360.14,241.66 L360.49,241.32 L360.84,240.95 L361.19,240.57 L361.54,240.17 L361.88,239.75 L362.22,239.33 L362.55,238.90 L362.87,238.48 L363.18,238.05 L363.49,237.64 L363.78,237.22 L364.06,236.80 L364.34,236.37 L364.61,235.94 L364.88,235.49 L365.16,235.03 L365.44,234.54 L365.73,234.03 L366.03,233.49 L366.25,233.09 L366.47,232.68 L366.71,232.26 L366.95,231.82 L367.19,231.38 L367.44,230.92 L367.68,230.45 L367.93,229.97 L368.18,229.48 L368.42,228.97 L368.66,228.45 L368.90,227.92 L369.13,227.38 L369.36,226.82 L369.53,226.37 L369.70,225.91 L369.86,225.44 L370.03,224.97 L370.19,224.48 L370.35,223.98 L370.50,223.48 L370.66,222.97 L370.81,222.46 L370.97,221.95 L371.12,221.43 L371.27,220.91 L371.42,220.40 L371.57,219.88 L371.72,219.37 L371.87,218.87 L372.02,218.37 L372.17,217.88 L372.33,217.39 L372.48,216.90 L372.63,216.41 L372.79,215.92 L372.94,215.43 L373.09,214.94 L373.25,214.46 L373.40,213.97 L373.55,213.48 L373.71,212.99 L373.86,212.50 L374.01,212.01 L374.16,211.52 L374.30,211.03 L374.45,210.54 L374.59,210.05 L374.74,209.56 L374.88,209.06 L375.02,208.57 L375.15,208.07 L375.29,207.56 L375.43,207.06 L375.56,206.55 L375.70,206.04 L375.83,205.53 L375.96,205.02 L376.09,204.52 L376.22,204.01 L376.34,203.51 L376.47,203.01 L376.59,202.52 L376.71,202.03 L376.83,201.55 L376.95,201.07 L377.07,200.61 L377.18,200.15 L377.32,199.60 L377.45,199.07 L377.58,198.54 L377.70,198.03 L377.82,197.52 L377.94,197.01 L378.06,196.52 L378.18,196.02 L378.30,195.53 L378.41,195.05 L378.52,194.57 L378.64,194.08 L378.75,193.60 L378.87,193.12 L378.98,192.64 L379.11,192.13 L379.23,191.62 L379.35,191.12 L379.47,190.63 L379.59,190.14 L379.71,189.65 L379.83,189.16 L379.95,188.67 L380.07,188.18 L380.19,187.69 L380.31,187.19 L380.43,186.68 L380.56,186.17 L380.68,185.64 L380.80,185.18 L380.91,184.72 L381.03,184.25 L381.15,183.78 L381.28,183.31 L381.40,182.83 L381.53,182.35 L381.65,181.87 L381.77,181.38 L381.90,180.88 L382.02,180.39 L382.14,179.88 L382.26,179.37 L382.37,178.86 L382.48,178.34 L382.59,177.82 L382.68,177.34 L382.77,176.87 L382.86,176.38 L382.94,175.90 L383.03,175.40 L383.11,174.91 L383.19,174.41 L383.27,173.91 L383.34,173.40 L383.42,172.90 L383.49,172.39 L383.57,171.89 L383.64,171.38 L383.71,170.88 L383.78,170.37 L383.85,169.87 L383.92,169.38 L383.99,168.88 L384.07,168.36 L384.14,167.85 L384.21,167.34 L384.28,166.83 L384.34,166.32 L384.41,165.81 L384.47,165.30 L384.54,164.80 L384.60,164.29 L384.66,163.78 L384.73,163.26 L384.79,162.74 L384.85,162.22 L384.91,161.69 L384.97,161.16 L385.03,160.62 L385.10,160.07 L385.15,159.59 L385.20,159.10 L385.26,158.61 L385.31,158.11 L385.36,157.61 L385.42,157.09 L385.47,156.58 L385.52,156.06 L385.57,155.55 L385.62,155.03 L385.67,154.51 L385.72,153.99 L385.77,153.48 L385.83,152.97 L385.88,152.47 L385.93,151.97 L385.97,151.48 L386.02,151.00 L386.07,150.53 L386.12,150.06 L386.18,149.51 L386.24,148.99 L386.29,148.49 L386.35,148.01 L386.40,147.54 L386.45,147.08 L386.51,146.62 L386.56,146.16 L386.61,145.70 L386.67,145.22 L386.72,144.72 L386.78,144.20 L386.84,143.65 L386.91,143.06 L386.98,142.44 L387.05,141.77 L387.09,141.35 L387.14,140.91 L387.18,140.47 L387.23,140.01 L387.28,139.54 L387.33,139.05 L387.38,138.56 L387.43,138.06 L387.49,137.55 L387.54,137.03 L387.59,136.50 L387.65,135.97 L387.70,135.44 L387.76,134.90 L387.81,134.35 L387.87,133.81 L387.92,133.26 L387.98,132.71 L388.04,132.16 L388.09,131.61 L388.15,131.07 L388.21,130.52 L388.27,129.98 L388.32,129.45 L388.38,128.92 L388.44,128.39 L388.50,127.88 L388.55,127.36 L388.61,126.84 L388.67,126.31 L388.73,125.78 L388.80,125.25 L388.86,124.72 L388.92,124.18 L388.99,123.64 L389.05,123.10 L389.12,122.56 L389.18,122.02 L389.25,121.49 L389.31,120.95 L389.38,120.42 L389.44,119.89 L389.51,119.36 L389.57,118.84 L389.63,118.32 L389.69,117.81 L389.75,117.30 L389.81,116.81 L389.87,116.31 L389.93,115.83 L389.99,115.35 L390.04,114.89 L390.09,114.43 L390.15,113.98 L390.22,113.36 L390.28,112.77 L390.35,112.19 L390.41,111.63 L390.47,111.08 L390.52,110.54 L390.58,110.02 L390.63,109.51 L390.68,109.01 L390.73,108.51 L390.79,108.02 L390.84,107.53 L390.89,107.04 L390.94,106.56 L390.99,106.07 L391.04,105.58 L391.09,105.09 L391.14,104.59 L391.20,104.08 L391.25,103.57 L391.30,103.06 L391.36,102.55 L391.41,102.04 L391.46,101.53 L391.51,101.03 L391.57,100.52 L391.62,100.02 L391.67,99.52 L391.72,99.02 L391.78,98.52 L391.83,98.02 L391.88,97.52 L391.94,97.02 L392.00,96.51 L392.06,96.01 L392.12,95.51 L392.18,95.01 L392.24,94.50 L392.31,94.00 L392.38,93.49 L392.45,92.99 L392.52,92.48 L392.59,91.97 L392.66,91.46 L392.74,90.96 L392.81,90.45 L392.89,89.94 L392.97,89.43 L393.05,88.92 L393.12,88.41 L393.20,87.90 L393.28,87.39 L393.36,86.88 L393.45,86.37 L393.53,85.86 L393.61,85.35 L393.69,84.84 L393.78,84.33 L393.86,83.81 L393.95,83.30 L394.02,82.78 L394.13,82.26 L394.19,81.73 L394.31,81.22 L394.42,80.70 L394.46,80.17 L394.56,79.66 L394.70,79.15 L394.77,78.63 L394.88,78.13 L394.88,77.61 L395.04,77.12 L395.13,76.62 L395.26,76.14 L395.24,75.64 L395.36,75.17 L395.49,74.62 L395.54,74.06 L395.74,73.54 L395.87,73.01 L395.87,72.47 L396.04,71.97 L396.08,71.45 L396.12,70.93 L396.19,70.42 L396.50,69.96 L396.69,69.48 L396.81,68.98 L396.82,68.47 L396.86,67.95 L397.11,67.49 L397.11,66.96 L397.22,66.44 L397.52,65.96 L397.55,65.40 L397.55,64.81 L397.68,64.26 L397.97,63.74 L398.19,63.21 L398.23,62.64 L398.80,62.22 L398.56,61.59 L398.86,61.13 L398.95,60.63 L399.42,60.27 L399.46,59.81 L399.81,59.47 L399.68,59.04 L399.81,58.27 L400.47,57.98 L400.11,57.45 L400.54,57.17 L400.17,56.46 L400.56,55.79 L401.12,55.52 L402.12,55.34 L401.09,54.57 L402.00,54.31 L402.48,53.91 L402.09,53.26 L401.50,52.54 L401.74,52.04 L402.82,51.78 L403.04,51.27 L402.14,50.45 L403.05,50.16 L403.57,49.79 L402.69,48.97 L402.77,48.46 L404.77,48.64 L404.94,48.17 L404.71,47.54 L403.64,46.59 L405.64,46.82 L405.56,46.24 L404.58,45.29 L404.27,44.60 L406.76,45.05 L406.90,44.55 L406.94,44.00 L407.45,43.64 L407.57,43.12 L405.63,41.75 L407.26,41.90 L405.91,40.77 L406.99,40.70 L408.80,40.95 L408.90,40.45 L407.57,39.30 L408.78,39.30 L408.53,38.64 L408.62,38.12 L407.78,37.17 L407.91,36.67 L408.44,36.36 L408.68,35.91 L409.51,35.76 L409.34,35.09 L411.31,35.48 L409.67,34.10 L410.10,33.74 L411.70,33.98 L410.44,32.78 L411.16,32.59 L411.44,32.18 L412.05,31.96 L412.70,31.77 L413.16,31.50 L413.08,30.90 L412.15,29.74 L412.95,29.66 L412.45,28.70 L412.87,28.47 L413.12,28.08 L413.26,27.58 L415.23,28.50 L415.06,27.73 L414.80,26.85 L416.06,27.23 L415.21,25.82 L415.46,25.33 L417.63,26.53 L417.83,26.03 L417.66,25.20 L417.94,24.79 L417.83,24.04 L419.01,24.47 L419.16,24.01 L419.04,23.33 L419.73,23.39 L420.61,23.22 L420.32,22.19 L419.36,20.74 L419.47,20.33 L419.86,20.23 L419.90,19.81 L421.84,21.50 L421.91,21.00 L421.14,19.11 L421.30,18.71 L422.81,20.22 L422.78,19.42 L422.48,18.06 L422.97,17.89 L423.69,18.08 L424.40,18.21 L424.75,17.70 L424.72,16.56 L425.28,16.39 L426.65,17.50 L427.33,17.47 L427.18,16.15 L427.76,15.97 L428.61,16.18 L428.81,15.45 L428.91,14.64 L430.00,15.09 L430.46,14.73 L430.79,14.21 L430.31,12.75 L430.89,12.59 L431.28,12.20 L431.59,11.75 L432.42,11.91 L433.20,12.03 L432.77,10.83 L433.83,11.31 L433.61,10.39 L434.12,9.83 L434.55,9.22 L435.64,9.27 L435.49,8.28 L435.88,7.88 L435.46,6.90 L435.74,6.64 L436.55,6.94 L434.03,4.76 L433.31,4.58 L433.55,5.32 L432.42,4.98 L431.95,5.24 L431.57,5.62 L431.77,6.59 L430.75,6.45 L429.99,6.58 L429.85,6.98 L430.50,8.33 L430.21,8.69 L428.87,7.91 L429.48,9.33 L429.20,9.79 L427.55,8.65 L428.21,10.23 L427.49,10.19 L426.27,9.51 L426.92,11.17 L425.46,10.14 L425.08,10.47 L425.09,11.31 L424.79,11.67 L424.89,12.70 L423.46,11.41 L423.34,12.19 L423.06,12.74 L421.94,11.95 L422.35,13.69 L421.34,13.10 L420.90,13.44 L419.85,12.79 L420.19,14.38 L419.94,14.99 L419.78,15.69 L419.49,16.14 L419.08,16.38 L418.47,16.67 L417.32,16.20 L415.95,15.57 L415.46,15.92 L416.26,17.40 L415.45,17.33 L414.72,17.36 L414.49,17.88 L413.97,18.29 L414.74,19.48 L414.55,19.87 L413.08,19.15 L413.97,20.58 L413.46,20.79 L412.20,20.35 L411.81,20.71 L412.92,22.42 L412.43,22.72 L410.90,22.14 L410.10,22.21 L410.58,23.36 L409.24,23.00 L410.41,24.67 L409.37,24.56 L409.42,25.30 L408.33,25.17 L407.90,25.55 L409.18,27.16 L407.54,26.80 L406.40,26.81 L407.54,28.19 L406.60,28.32 L406.29,28.80 L405.20,28.86 L406.33,30.08 L406.38,30.71 L405.54,30.88 L405.30,31.35 L405.72,32.14 L405.25,32.48 L404.67,32.76 L405.30,33.65 L404.21,33.70 L404.71,34.54 L403.87,34.72 L403.67,35.22 L404.58,36.23 L403.38,36.26 L404.07,37.15 L403.96,37.67 L402.16,37.44 L401.80,37.85 L403.43,39.14 L402.92,39.48 L401.80,39.55 L400.89,39.72 L402.72,41.06 L401.51,41.13 L401.71,41.81 L402.02,42.52 L401.31,42.81 L399.86,42.81 L399.91,43.42 L400.38,44.19 L400.22,44.71 L398.89,44.78 L399.08,45.44 L399.69,46.24 L398.53,46.40 L399.02,47.15 L398.42,47.52 L398.54,48.16 L397.99,48.59 L398.37,49.31 L399.34,50.20 L399.10,50.72 L398.01,51.00 L398.39,51.68 L398.06,52.16 L397.30,52.49 L397.92,53.19 L396.86,53.39 L398.34,54.27 L396.72,54.23 L397.03,54.69 L396.85,55.34 L397.82,56.15 L397.76,56.53 L396.60,56.58 L396.98,57.36 L396.96,58.23 L396.82,58.60 L396.25,58.87 L396.64,59.46 L396.53,59.94 L396.52,60.46 L396.16,60.91 L395.94,61.42 L395.93,62.00 L395.49,62.47 L395.75,63.14 L395.43,63.66 L395.59,64.30 L395.09,64.77 L395.21,65.38 L395.16,65.95 L394.80,66.42 L394.76,66.96 L394.55,67.45 L394.43,67.96 L394.34,68.48 L394.46,69.03 L394.31,69.53 L394.22,70.04 L393.97,70.53 L394.05,71.07 L393.98,71.60 L393.76,72.09 L393.87,72.66 L393.78,73.19 L393.52,73.70 L393.57,74.28 L393.46,74.83 L393.31,75.30 L393.25,75.79 L393.23,76.29 L393.12,76.79 L393.03,77.29 L392.88,77.79 L392.83,78.31 L392.77,78.83 L392.65,79.34 L392.60,79.87 L392.52,80.39 L392.46,80.92 L392.39,81.44 L392.29,81.97 L392.20,82.49 L392.14,83.01 L392.06,83.53 L391.99,84.05 L391.91,84.56 L391.83,85.07 L391.76,85.59 L391.68,86.10 L391.61,86.61 L391.53,87.12 L391.46,87.63 L391.38,88.15 L391.31,88.66 L391.23,89.17 L391.16,89.69 L391.09,90.20 L391.02,90.71 L390.95,91.22 L390.88,91.74 L390.81,92.25 L390.75,92.76 L390.68,93.27 L390.62,93.78 L390.56,94.30 L390.50,94.81 L390.44,95.32 L390.38,95.82 L390.33,96.33 L390.28,96.84 L390.23,97.34 L390.18,97.85 L390.13,98.35 L390.08,98.85 L390.03,99.36 L389.98,99.86 L389.94,100.37 L389.89,100.87 L389.84,101.38 L389.80,101.88 L389.75,102.39 L389.70,102.90 L389.65,103.41 L389.60,103.92 L389.55,104.43 L389.51,104.93 L389.46,105.43 L389.41,105.92 L389.37,106.41 L389.32,106.89 L389.28,107.38 L389.23,107.87 L389.19,108.36 L389.14,108.85 L389.10,109.36 L389.05,109.87 L389.00,110.39 L388.95,110.92 L388.89,111.47 L388.84,112.03 L388.78,112.61 L388.72,113.20 L388.65,113.82 L388.61,114.26 L388.56,114.72 L388.51,115.19 L388.46,115.66 L388.40,116.14 L388.35,116.63 L388.29,117.13 L388.23,117.64 L388.18,118.15 L388.12,118.67 L388.06,119.19 L388.00,119.72 L387.94,120.25 L387.87,120.78 L387.81,121.32 L387.75,121.86 L387.69,122.40 L387.63,122.94 L387.57,123.48 L387.51,124.01 L387.45,124.55 L387.39,125.09 L387.33,125.62 L387.27,126.16 L387.21,126.68 L387.16,127.21 L387.10,127.72 L387.05,128.24 L387.00,128.77 L386.94,129.30 L386.89,129.84 L386.83,130.38 L386.78,130.93 L386.73,131.47 L386.67,132.02 L386.62,132.57 L386.57,133.12 L386.51,133.67 L386.46,134.22 L386.41,134.76 L386.36,135.30 L386.31,135.84 L386.26,136.37 L386.21,136.90 L386.16,137.42 L386.11,137.93 L386.06,138.43 L386.02,138.92 L385.97,139.40 L385.92,139.88 L385.88,140.34 L385.84,140.78 L385.79,141.21 L385.75,141.63 L385.69,142.30 L385.62,142.93 L385.56,143.51 L385.50,144.06 L385.45,144.58 L385.39,145.08 L385.34,145.56 L385.29,146.02 L385.24,146.48 L385.19,146.94 L385.14,147.40 L385.09,147.87 L385.04,148.35 L384.99,148.85 L384.93,149.38 L384.88,149.94 L384.83,150.40 L384.79,150.87 L384.74,151.36 L384.69,151.85 L384.64,152.35 L384.60,152.85 L384.55,153.36 L384.50,153.88 L384.45,154.39 L384.40,154.91 L384.35,155.43 L384.30,155.95 L384.26,156.46 L384.21,156.97 L384.16,157.48 L384.11,157.99 L384.06,158.49 L384.01,158.98 L383.95,159.46 L383.90,159.93 L383.84,160.48 L383.78,161.02 L383.72,161.55 L383.66,162.08 L383.60,162.60 L383.54,163.12 L383.47,163.63 L383.41,164.14 L383.35,164.65 L383.28,165.15 L383.22,165.66 L383.15,166.16 L383.09,166.67 L383.02,167.18 L382.95,167.69 L382.88,168.20 L382.81,168.72 L382.74,169.21 L382.67,169.71 L382.60,170.21 L382.52,170.71 L382.45,171.21 L382.38,171.71 L382.31,172.22 L382.23,172.72 L382.16,173.22 L382.08,173.72 L382.00,174.22 L381.92,174.71 L381.84,175.21 L381.76,175.69 L381.67,176.17 L381.59,176.65 L381.50,177.12 L381.41,177.58 L381.31,178.10 L381.20,178.61 L381.09,179.11 L380.97,179.61 L380.85,180.10 L380.73,180.60 L380.61,181.09 L380.49,181.57 L380.36,182.05 L380.24,182.53 L380.12,183.01 L379.99,183.48 L379.87,183.95 L379.75,184.42 L379.63,184.89 L379.52,185.36 L379.39,185.88 L379.26,186.40 L379.14,186.90 L379.02,187.40 L378.90,187.90 L378.78,188.39 L378.66,188.88 L378.54,189.37 L378.42,189.85 L378.30,190.35 L378.18,190.84 L378.06,191.34 L377.94,191.85 L377.82,192.36 L377.70,192.84 L377.59,193.33 L377.47,193.81 L377.36,194.29 L377.24,194.77 L377.13,195.26 L377.01,195.75 L376.90,196.24 L376.78,196.74 L376.66,197.24 L376.54,197.75 L376.41,198.26 L376.28,198.78 L376.15,199.31 L376.02,199.85 L375.90,200.31 L375.79,200.78 L375.67,201.26 L375.55,201.74 L375.43,202.23 L375.30,202.72 L375.18,203.22 L375.05,203.72 L374.92,204.22 L374.80,204.73 L374.67,205.23 L374.53,205.74 L374.40,206.24 L374.27,206.75 L374.13,207.25 L374.00,207.75 L373.86,208.25 L373.72,208.74 L373.58,209.23 L373.44,209.71 L373.30,210.20 L373.15,210.69 L373.01,211.18 L372.86,211.66 L372.71,212.15 L372.56,212.63 L372.41,213.12 L372.26,213.61 L372.10,214.10 L371.95,214.58 L371.80,215.07 L371.64,215.56 L371.49,216.05 L371.33,216.54 L371.18,217.03 L371.03,217.52 L370.87,218.02 L370.72,218.52 L370.57,219.03 L370.42,219.55 L370.27,220.06 L370.12,220.58 L369.97,221.09 L369.81,221.60 L369.66,222.12 L369.51,222.62 L369.36,223.12 L369.20,223.62 L369.05,224.11 L368.89,224.58 L368.73,225.05 L368.57,225.51 L368.41,225.95 L368.24,226.38 L368.02,226.92 L367.80,227.44 L367.57,227.96 L367.34,228.46 L367.10,228.95 L366.86,229.43 L366.62,229.90 L366.38,230.36 L366.13,230.81 L365.89,231.25 L365.66,231.68 L365.42,232.10 L365.20,232.51 L364.97,232.91 L364.68,233.45 L364.39,233.95 L364.12,234.42 L363.85,234.88 L363.59,235.31 L363.33,235.73 L363.06,236.14 L362.79,236.54 L362.51,236.94 L362.22,237.35 L361.91,237.76 L361.60,238.18 L361.27,238.59 L360.95,239.00 L360.62,239.39 L360.29,239.77 L359.97,240.13 L359.65,240.47 L359.33,240.77 L359.02,241.04 L358.55,241.42 L358.09,241.77 L357.64,242.08 L357.22,242.33 L356.84,242.48 L356.52,242.54 L356.23,242.52 L355.99,242.42 L355.71,242.24 L355.41,241.98 L355.09,241.63 L354.77,241.22 L354.46,240.74 L354.14,240.21 L353.83,239.63 L353.67,239.28 L353.50,238.90 L353.34,238.48 L353.18,238.04 L353.02,237.57 L352.86,237.09 L352.70,236.59 L352.55,236.08 L352.40,235.56 L352.25,235.04 L352.10,234.53 L351.96,234.02 L351.82,233.52 L351.68,233.03 L351.53,232.52 L351.39,232.01 L351.25,231.49 L351.12,230.97 L350.99,230.44 L350.86,229.92 L350.73,229.40 L350.61,228.88 L350.48,228.37 L350.36,227.87 L350.23,227.38 L350.11,226.90 L349.98,226.44 L349.82,225.85 L349.66,225.27 L349.50,224.70 L349.34,224.14 L349.18,223.59 L349.02,223.07 L348.86,222.57 L348.71,222.10 L348.55,221.66 L348.40,221.24 L348.16,220.54 L347.92,219.97 L347.70,219.51 L347.53,219.11 L347.30,218.72 L347.26,218.17 L347.05,217.61 L346.84,217.03 L346.58,216.52 L346.08,216.25 L346.49,215.61Z"/></g>
<text transform="translate(105.0,209.6) rotate(-90)" font-size="13.4" textLength="61.1" lengthAdjust="spacingAndGlyphs">γ-thrombin</text><text transform="translate(143.4,209.0) rotate(-90)" font-size="13.4" textLength="90.0" lengthAdjust="spacingAndGlyphs">γ-thrombin+7E3</text><text transform="translate(156.2,199.7) rotate(-90)" font-size="13.4" textLength="141.5" lengthAdjust="spacingAndGlyphs">γ-thrombin+p-R724-R734</text><text transform="translate(171.6,191.3) rotate(-90)" font-size="13.4" textLength="164.5" lengthAdjust="spacingAndGlyphs">γ-thrombin+p-R724-R734+Fg</text><text transform="translate(271.9,208.9) rotate(-90)" font-size="13.4" textLength="123.3" lengthAdjust="spacingAndGlyphs">γ-thrombin+p-Control</text><text transform="translate(316.2,215.3) rotate(-90)" font-size="13.4" textLength="130.3" lengthAdjust="spacingAndGlyphs">γ-thrombin+R724-R734</text><text transform="translate(362.5,221.4) rotate(-90)" font-size="13.4" textLength="141.2" lengthAdjust="spacingAndGlyphs">γ-thrombin+p-A735-N744</text>
<path d="M26.3,262.4 V371.9 H253.5" stroke="#3a3a3a" stroke-width="1.2" fill="none"/><path d="M23.5,371.9 H26.3" stroke="#3a3a3a" stroke-width="1.2"/><text x="21.7" y="375.9" text-anchor="end" font-size="9.4">0</text><path d="M23.5,344.6 H26.3" stroke="#3a3a3a" stroke-width="1.2"/><text x="21.7" y="348.6" text-anchor="end" font-size="9.4">5</text><path d="M23.5,317.5 H26.3" stroke="#3a3a3a" stroke-width="1.2"/><text x="21.7" y="321.5" text-anchor="end" font-size="9.4">10</text><path d="M23.5,290.4 H26.3" stroke="#3a3a3a" stroke-width="1.2"/><text x="21.7" y="294.4" text-anchor="end" font-size="9.4">15</text><path d="M23.5,262.4 H26.3" stroke="#3a3a3a" stroke-width="1.2"/><text x="21.7" y="266.4" text-anchor="end" font-size="9.4">20</text><path d="M55.3,371.9 V374.9" stroke="#3a3a3a" stroke-width="1.2"/><path d="M83.6,371.9 V374.9" stroke="#3a3a3a" stroke-width="1.2"/><path d="M111.9,371.9 V374.9" stroke="#3a3a3a" stroke-width="1.2"/><path d="M140.4,371.9 V374.9" stroke="#3a3a3a" stroke-width="1.2"/><path d="M168.8,371.9 V374.9" stroke="#3a3a3a" stroke-width="1.2"/><path d="M196.9,371.9 V374.9" stroke="#3a3a3a" stroke-width="1.2"/><path d="M225.3,371.9 V374.9" stroke="#3a3a3a" stroke-width="1.2"/><path d="M253.5,371.9 V374.9" stroke="#3a3a3a" stroke-width="1.2"/><rect x="34.4" y="370.4" width="12.0" height="1.50" fill="#000"/><rect x="63.1" y="300.9" width="12.2" height="71.00" fill="#000"/><path d="M69.20,300.9 V293.6" stroke="#666" stroke-width="1"/><path d="M68.00,293.8 H70.40" stroke="#222" stroke-width="1.3"/><rect x="91.9" y="353.2" width="11.9" height="18.70" fill="#000"/><path d="M97.85,353.2 V348.1" stroke="#666" stroke-width="1"/><path d="M96.65,348.3 H99.05" stroke="#222" stroke-width="1.3"/><rect x="120.4" y="353.0" width="11.8" height="18.90" fill="#000"/><path d="M126.30,353.0 V349.9" stroke="#666" stroke-width="1"/><path d="M125.10,350.09999999999997 H127.50" stroke="#222" stroke-width="1.3"/><rect x="148.8" y="353.0" width="12.0" height="18.90" fill="#000"/><path d="M154.80,353.0 V344.2" stroke="#666" stroke-width="1"/><path d="M153.60,344.4 H156.00" stroke="#222" stroke-width="1.3"/><rect x="176.6" y="302.3" width="11.9" height="69.60" fill="#000"/><path d="M182.55,302.3 V297.0" stroke="#666" stroke-width="1"/><path d="M181.35,297.2 H183.75" stroke="#222" stroke-width="1.3"/><rect x="205.1" y="300.8" width="11.9" height="71.10" fill="#000"/><path d="M211.05,300.8 V292.0" stroke="#666" stroke-width="1"/><path d="M209.85,292.2 H212.25" stroke="#222" stroke-width="1.3"/><rect x="233.8" y="297.2" width="11.9" height="74.70" fill="#000"/><path d="M239.75,297.2 V290.0" stroke="#666" stroke-width="1"/><path d="M238.55,290.2 H240.95" stroke="#222" stroke-width="1.3"/>
<path d="M292.5,273.0 V371.9 H518.6" stroke="#3a3a3a" stroke-width="1.2" fill="none"/><path d="M289.7,371.9 H292.5" stroke="#3a3a3a" stroke-width="1.2"/><text x="288.4" y="375.3" text-anchor="end" font-size="9.4">0</text><path d="M289.7,338.9 H292.5" stroke="#3a3a3a" stroke-width="1.2"/><text x="288.4" y="342.3" text-anchor="end" font-size="9.4">0.5</text><path d="M289.7,305.6 H292.5" stroke="#3a3a3a" stroke-width="1.2"/><text x="288.4" y="309.0" text-anchor="end" font-size="9.4">1</text><path d="M289.7,273.0 H292.5" stroke="#3a3a3a" stroke-width="1.2"/><text x="288.4" y="276.4" text-anchor="end" font-size="9.4">1.5</text><path d="M321.1,371.9 V374.9" stroke="#3a3a3a" stroke-width="1.2"/><path d="M349.3,371.9 V374.9" stroke="#3a3a3a" stroke-width="1.2"/><path d="M377.4,371.9 V374.9" stroke="#3a3a3a" stroke-width="1.2"/><path d="M405.5,371.9 V374.9" stroke="#3a3a3a" stroke-width="1.2"/><path d="M433.8,371.9 V374.9" stroke="#3a3a3a" stroke-width="1.2"/><path d="M462.0,371.9 V374.9" stroke="#3a3a3a" stroke-width="1.2"/><path d="M490.2,371.9 V374.9" stroke="#3a3a3a" stroke-width="1.2"/><path d="M518.6,371.9 V374.9" stroke="#3a3a3a" stroke-width="1.2"/><rect x="301.2" y="369.2" width="11.2" height="2.70" fill="#000"/><rect x="329.2" y="301.9" width="11.6" height="70.00" fill="#000"/><path d="M335.00,301.9 V291.9" stroke="#666" stroke-width="1"/><path d="M333.80,292.09999999999997 H336.20" stroke="#222" stroke-width="1.3"/><rect x="358.0" y="356.1" width="11.0" height="15.80" fill="#000"/><path d="M363.50,356.1 V351.2" stroke="#666" stroke-width="1"/><path d="M362.30,351.4 H364.70" stroke="#222" stroke-width="1.3"/><rect x="386.2" y="361.2" width="11.0" height="10.70" fill="#000"/><path d="M391.70,361.2 V357.8" stroke="#666" stroke-width="1"/><path d="M390.50,358.0 H392.90" stroke="#222" stroke-width="1.3"/><rect x="414.6" y="358.5" width="11.1" height="13.40" fill="#000"/><path d="M420.15,358.5 V348.8" stroke="#666" stroke-width="1"/><path d="M418.95,349.0 H421.35" stroke="#222" stroke-width="1.3"/><rect x="441.2" y="303.1" width="11.5" height="68.80" fill="#000"/><path d="M446.95,303.1 V294.9" stroke="#666" stroke-width="1"/><path d="M445.75,295.09999999999997 H448.15" stroke="#222" stroke-width="1.3"/><rect x="469.2" y="291.5" width="11.6" height="80.40" fill="#000"/><path d="M475.00,291.5 V275.2" stroke="#666" stroke-width="1"/><path d="M473.80,275.4 H476.20" stroke="#222" stroke-width="1.3"/><rect x="497.8" y="298.0" width="11.5" height="73.90" fill="#000"/><path d="M503.55,298.0 V284.2" stroke="#666" stroke-width="1"/><path d="M502.35,284.4 H504.75" stroke="#222" stroke-width="1.3"/>
<text transform="translate(42.7,406.9) rotate(-90)" font-size="9.3" textLength="31.1" lengthAdjust="spacingAndGlyphs">Resting</text><text transform="translate(70.3,421.5) rotate(-90)" font-size="9.3" textLength="45.3" lengthAdjust="spacingAndGlyphs">γ-thrombin</text><text transform="translate(95.1,429.2) rotate(-90)" font-size="9.3" textLength="52.7" lengthAdjust="spacingAndGlyphs">γ-thrombin+</text><text transform="translate(106.2,405.5) rotate(-90)" font-size="9.3" textLength="18.2" lengthAdjust="spacingAndGlyphs">7E3</text><text transform="translate(123.2,429.0) rotate(-90)" font-size="9.3" textLength="52.2" lengthAdjust="spacingAndGlyphs">γ-thrombin+</text><text transform="translate(132.8,433.5) rotate(-90)" font-size="9.3" textLength="56.5" lengthAdjust="spacingAndGlyphs">p-R724-R734</text><text transform="translate(151.3,428.3) rotate(-90)" font-size="9.3" textLength="50.9" lengthAdjust="spacingAndGlyphs">γ-thrombin+</text><text transform="translate(161.0,431.5) rotate(-90)" font-size="9.3" textLength="54.6" lengthAdjust="spacingAndGlyphs">p-R724-R734</text><text transform="translate(168.8,402.3) rotate(-90)" font-size="9.3" textLength="16.7" lengthAdjust="spacingAndGlyphs">+Fg</text><text transform="translate(180.7,427.6) rotate(-90)" font-size="9.3" textLength="50.0" lengthAdjust="spacingAndGlyphs">γ-thrombin+</text><text transform="translate(190.2,414.3) rotate(-90)" font-size="9.3" textLength="36.7" lengthAdjust="spacingAndGlyphs">p-control</text><text transform="translate(207.2,427.6) rotate(-90)" font-size="9.3" textLength="50.7" lengthAdjust="spacingAndGlyphs">γ-thrombin+</text><text transform="translate(219.0,422.7) rotate(-90)" font-size="9.3" textLength="46.5" lengthAdjust="spacingAndGlyphs">R724-R734</text><text transform="translate(235.8,428.0) rotate(-90)" font-size="9.3" textLength="51.0" lengthAdjust="spacingAndGlyphs">γ-thrombin+</text><text transform="translate(247.2,432.0) rotate(-90)" font-size="9.3" textLength="55.0" lengthAdjust="spacingAndGlyphs">p-A735-N744</text><text transform="translate(307.2,406.9) rotate(-90)" font-size="9.3" textLength="31.1" lengthAdjust="spacingAndGlyphs">Resting</text><text transform="translate(336.8,421.5) rotate(-90)" font-size="9.3" textLength="45.3" lengthAdjust="spacingAndGlyphs">γ-thrombin</text><text transform="translate(361.3,429.2) rotate(-90)" font-size="9.3" textLength="52.7" lengthAdjust="spacingAndGlyphs">γ-thrombin+</text><text transform="translate(371.0,391.9) rotate(-90)" font-size="9.3" textLength="15.7" lengthAdjust="spacingAndGlyphs">7E3</text><text transform="translate(388.4,429.0) rotate(-90)" font-size="9.3" textLength="52.2" lengthAdjust="spacingAndGlyphs">γ-thrombin+</text><text transform="translate(398.0,433.5) rotate(-90)" font-size="9.3" textLength="56.5" lengthAdjust="spacingAndGlyphs">p-R724-R734</text><text transform="translate(415.0,428.3) rotate(-90)" font-size="9.3" textLength="50.9" lengthAdjust="spacingAndGlyphs">γ-thrombin+</text><text transform="translate(424.2,431.5) rotate(-90)" font-size="9.3" textLength="54.6" lengthAdjust="spacingAndGlyphs">p-R724-R734</text><text transform="translate(433.3,405.4) rotate(-90)" font-size="9.3" textLength="16.9" lengthAdjust="spacingAndGlyphs">+Fg</text><text transform="translate(444.0,427.6) rotate(-90)" font-size="9.3" textLength="50.0" lengthAdjust="spacingAndGlyphs">γ-thrombin+</text><text transform="translate(452.3,414.3) rotate(-90)" font-size="9.3" textLength="36.7" lengthAdjust="spacingAndGlyphs">p-control</text><text transform="translate(470.0,427.6) rotate(-90)" font-size="9.3" textLength="50.7" lengthAdjust="spacingAndGlyphs">γ-thrombin+</text><text transform="translate(481.8,422.7) rotate(-90)" font-size="9.3" textLength="46.5" lengthAdjust="spacingAndGlyphs">R724-R734</text><text transform="translate(498.8,428.0) rotate(-90)" font-size="9.3" textLength="51.0" lengthAdjust="spacingAndGlyphs">γ-thrombin+</text><text transform="translate(510.2,432.0) rotate(-90)" font-size="9.3" textLength="55.0" lengthAdjust="spacingAndGlyphs">p-A735-N744</text><text transform="translate(8.8,347.7) rotate(-90)" font-size="9.5" textLength="55.2" lengthAdjust="spacingAndGlyphs">TxB2(ng/mL)</text><text transform="translate(272.8,347.7) rotate(-90)" font-size="9.5" textLength="54.8" lengthAdjust="spacingAndGlyphs">ATP(nmoles)</text>
</svg>
</body></html>
